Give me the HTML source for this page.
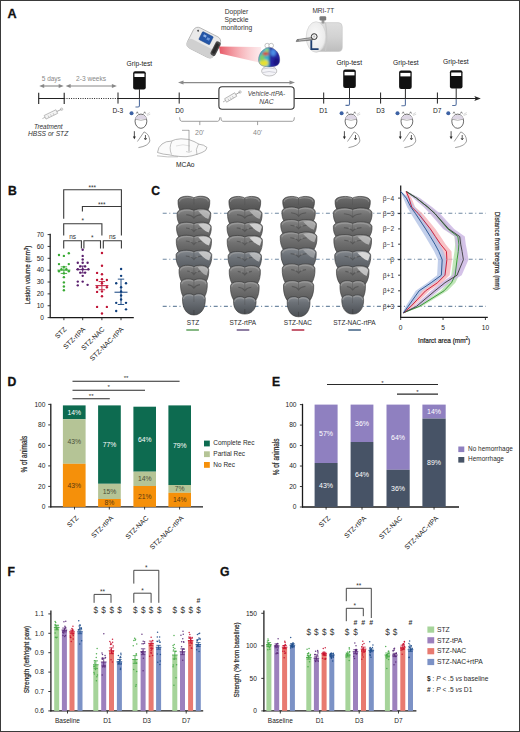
<!DOCTYPE html><html><head><meta charset="utf-8"><style>html,body{margin:0;padding:0;background:#fff;}body{width:520px;height:732px;overflow:hidden;}svg{display:block;font-family:"Liberation Sans", sans-serif;}</style></head><body>
<svg width="520" height="732" viewBox="0 0 520 732">
<defs><linearGradient id="beam" x1="0" y1="0" x2="1" y2="0"><stop offset="0" stop-color="#e23a4a" stop-opacity="0.85"/><stop offset="0.5" stop-color="#f07882" stop-opacity="0.55"/><stop offset="1" stop-color="#f8c0c6" stop-opacity="0.3"/></linearGradient><radialGradient id="heat" cx="0.45" cy="0.4" r="0.6"><stop offset="0" stop-color="#f0e020"/><stop offset="0.3" stop-color="#60d060"/><stop offset="0.6" stop-color="#20a0e0"/><stop offset="1" stop-color="#1030a0"/></radialGradient><linearGradient id="slice" x1="0" y1="0" x2="1" y2="0"><stop offset="0" stop-color="#5a5a5a"/><stop offset="0.5" stop-color="#6e6e6e"/><stop offset="1" stop-color="#888"/></linearGradient><linearGradient id="mri" x1="0" y1="0" x2="1" y2="0"><stop offset="0" stop-color="#e6e6e6"/><stop offset="1" stop-color="#c8c8c8"/></linearGradient></defs>
<rect x="0" y="0" width="520" height="732" fill="#fff"/>
<text x="7.60" y="17.90" font-size="12.6" text-anchor="start" fill="#111" font-weight="bold" font-style="normal" stroke="#111" stroke-width="0.3">A</text>
<text x="236.50" y="13.70" font-size="6.7" text-anchor="middle" fill="#333" font-weight="normal" font-style="normal" >Doppler</text>
<text x="236.50" y="21.90" font-size="6.7" text-anchor="middle" fill="#333" font-weight="normal" font-style="normal" >Speckle</text>
<text x="236.50" y="30.10" font-size="6.7" text-anchor="middle" fill="#333" font-weight="normal" font-style="normal" >monitoring</text>
<text x="323.30" y="13.30" font-size="6.5" text-anchor="middle" fill="#333" font-weight="normal" font-style="normal" >MRI-7T</text>
<g transform="translate(203.8,42.6) rotate(27)">
<rect x="-15" y="-11.5" width="30" height="23" rx="5" ry="5" fill="#eaeaea" stroke="#a5a5a5" stroke-width="0.7"/>
<rect x="-15" y="2" width="30" height="9.5" rx="4" ry="4" fill="#d0d0d0" stroke="none"/>
<rect x="-6" y="-9.5" width="12" height="9" rx="0.8" fill="#2456a8" stroke="#173c7a" stroke-width="0.4"/>
<rect x="-3.5" y="-7.5" width="3" height="2.2" fill="#8fb2e6"/><rect x="0.8" y="-6.5" width="3" height="2.5" fill="#6d97d8"/>
<rect x="10.5" y="-7.5" width="5.5" height="15" rx="2" fill="#4a4a4a"/>
<rect x="11.5" y="-5.5" width="3.2" height="11" rx="1.5" fill="#2a2a2a"/>
<circle cx="-10.5" cy="-8" r="1" fill="#555"/>
</g>
<path d="M219,46.5 L261,47 L262,63 L220,53.5 Z" fill="url(#beam)" stroke="none" stroke-width="0" />
<circle cx="267.20" cy="45.60" r="2.30" fill="#fff" stroke="#8a8a8a" stroke-width="0.5"/>
<circle cx="271.20" cy="45.60" r="2.30" fill="#fff" stroke="#8a8a8a" stroke-width="0.5"/>
<ellipse cx="269.2" cy="71" rx="7.6" ry="5" fill="#f4f4f8" stroke="#8a8a8a" stroke-width="0.5"/>
<path d="M262.5,69 Q269,67 276,69 M263,72.5 Q269,70.5 275.5,72.5" fill="none" stroke="#9a9aaa" stroke-width="0.4" />
<defs><clipPath id="ctx"><path d="M269.2,47.4 C263.5,47.4 258.3,53 258.4,60 C258.5,64.5 261.5,66.9 269.2,66.9 C276.9,66.9 279.8,64.5 279.9,60 C280,53 274.9,47.4 269.2,47.4 Z"/></clipPath><filter id="hb" x="-30%" y="-30%" width="160%" height="160%"><feGaussianBlur stdDeviation="0.9"/></filter></defs>
<g clip-path="url(#ctx)"><g filter="url(#hb)">
<rect x="256.00" y="45.00" width="14.00" height="24.00" fill="#38b4cc" />
<rect x="269.20" y="45.00" width="12.00" height="24.00" fill="#2626a0" />
<ellipse cx="263.8" cy="63" rx="4.8" ry="3.4" fill="#e8e030"/>
<ellipse cx="262" cy="58" rx="2.6" ry="3" fill="#80d060"/>
<ellipse cx="265.6" cy="53.8" rx="3.2" ry="1.7" fill="#e03818"/>
<ellipse cx="267" cy="50.3" rx="2" ry="1.6" fill="#a8dc60"/>
<ellipse cx="273.2" cy="52.5" rx="2.8" ry="3.6" fill="#4c8ee6"/>
<ellipse cx="276.5" cy="62" rx="3" ry="3.8" fill="#1a1480"/>
</g></g>
<path d="M269.2,47.6 C264,47.6 258.5,53 258.6,60 C258.7,64.5 261.5,66.8 269.2,66.8 C276.9,66.8 279.6,64.5 279.7,60 C279.8,53 274.4,47.6 269.2,47.6 Z" fill="none" stroke="#6a6a8a" stroke-width="0.4" />
<defs><linearGradient id="mrib" x1="0" y1="0" x2="0" y2="1"><stop offset="0" stop-color="#dedede"/><stop offset="0.5" stop-color="#d2d2d2"/><stop offset="1" stop-color="#bdbdbd"/></linearGradient><radialGradient id="mrif" cx="0.45" cy="0.45" r="0.6"><stop offset="0" stop-color="#fafafa"/><stop offset="0.8" stop-color="#ececec"/><stop offset="1" stop-color="#d0d0d0"/></radialGradient></defs>
<path d="M316,22.6 L338.5,22.6 Q342.3,22.8 342.3,27 L342.3,47.2 Q342.3,51.4 338.5,51.4 L316,51.6 Z" fill="url(#mrib)" stroke="#c2c2c2" stroke-width="0.5" />
<path d="M325.5,22.6 Q328,37 325.5,51.4" fill="none" stroke="#c8c8c8" stroke-width="1.2" />
<rect x="321.60" y="19.50" width="2.80" height="4.00" fill="#9a9a9a" />
<rect x="319.5" y="16.2" width="6.7" height="4.2" rx="1.2" fill="#7a7a7a"/>
<ellipse cx="316.1" cy="37" rx="9.9" ry="15.3" fill="url(#mrif)" stroke="#cfcfcf" stroke-width="0.6"/>
<path d="M297.0,39.6 L312.5,37.4 L312.5,40.0 L296.2,41.6 Z" fill="#8a8a8a" stroke="#444" stroke-width="0.5" />
<line x1="299.00" y1="40.20" x2="311.50" y2="38.60" stroke="#e8e8e8" stroke-width="0.6" />
<circle cx="314.20" cy="36.60" r="2.90" fill="#f2f2f2" stroke="#333" stroke-width="1.0"/>
<circle cx="314.20" cy="36.60" r="1.00" fill="#bbb" />
<path d="M311.3,40.2 L311.3,49.1 L318.6,49.1" fill="none" stroke="#1f3f70" stroke-width="1.8" />
<line x1="181.00" y1="82.60" x2="292.00" y2="82.60" stroke="#8a8a8a" stroke-width="1.1" />
<path d="M178,82.6 L183.5,80.6 L183.5,84.6 Z" fill="#8a8a8a" stroke="none" stroke-width="0" />
<path d="M295,82.6 L289.5,80.6 L289.5,84.6 Z" fill="#8a8a8a" stroke="none" stroke-width="0" />
<line x1="38.70" y1="98.50" x2="64.20" y2="98.50" stroke="#222" stroke-width="1.0" />
<line x1="64.20" y1="98.50" x2="118.00" y2="98.50" stroke="#222" stroke-width="1.0" stroke-dasharray="1,1.3"/>
<line x1="118.00" y1="98.50" x2="218.70" y2="98.50" stroke="#222" stroke-width="1.0" />
<line x1="294.30" y1="98.50" x2="476.00" y2="98.50" stroke="#222" stroke-width="1.0" />
<path d="M480.8,98.5 L474.3,95.9 L475.8,98.5 L474.3,101.1 Z" fill="#222" stroke="none" stroke-width="0" />
<line x1="38.70" y1="92.70" x2="38.70" y2="103.90" stroke="#222" stroke-width="1.1" />
<line x1="64.20" y1="92.70" x2="64.20" y2="103.90" stroke="#222" stroke-width="1.1" />
<line x1="118.00" y1="92.50" x2="118.00" y2="103.60" stroke="#222" stroke-width="1.0" />
<line x1="179.20" y1="92.50" x2="179.20" y2="103.60" stroke="#222" stroke-width="1.0" />
<line x1="323.70" y1="92.50" x2="323.70" y2="103.60" stroke="#222" stroke-width="1.0" />
<line x1="380.60" y1="92.50" x2="380.60" y2="103.60" stroke="#222" stroke-width="1.0" />
<line x1="437.40" y1="92.50" x2="437.40" y2="103.60" stroke="#222" stroke-width="1.0" />
<text x="117.80" y="113.10" font-size="6.6" text-anchor="middle" fill="#222" font-weight="normal" font-style="normal" >D-3</text>
<text x="179.40" y="113.10" font-size="6.6" text-anchor="middle" fill="#222" font-weight="normal" font-style="normal" >D0</text>
<text x="323.50" y="113.10" font-size="6.6" text-anchor="middle" fill="#222" font-weight="normal" font-style="normal" >D1</text>
<text x="380.40" y="113.10" font-size="6.6" text-anchor="middle" fill="#222" font-weight="normal" font-style="normal" >D3</text>
<text x="437.30" y="113.10" font-size="6.6" text-anchor="middle" fill="#222" font-weight="normal" font-style="normal" >D7</text>
<text x="51.30" y="81.20" font-size="6.5" text-anchor="middle" fill="#888" font-weight="normal" font-style="normal" >5 days</text>
<text x="91.10" y="81.20" font-size="6.6" text-anchor="middle" fill="#888" font-weight="normal" font-style="normal" >2-3 weeks</text>
<line x1="43.20" y1="86.00" x2="59.70" y2="86.00" stroke="#888" stroke-width="1.1" />
<path d="M39.2,86 L44.2,83.9 L44.2,88.1 Z" fill="#888" stroke="none" stroke-width="0" />
<path d="M63.7,86 L58.7,83.9 L58.7,88.1 Z" fill="#888" stroke="none" stroke-width="0" />
<line x1="69.60" y1="86.00" x2="112.90" y2="86.00" stroke="#888" stroke-width="1.1" />
<path d="M65.6,86 L70.6,83.9 L70.6,88.1 Z" fill="#888" stroke="none" stroke-width="0" />
<path d="M116.9,86 L111.9,83.9 L111.9,88.1 Z" fill="#888" stroke="none" stroke-width="0" />
<path d="M45.97,119.08 L57.68,113.35 L55.92,109.75 L44.21,115.48 Z" fill="#f4f4f4" stroke="#a0a0a0" stroke-width="0.7" />
<line x1="42.40" y1="118.60" x2="45.09" y2="117.28" stroke="#a0a0a0" stroke-width="0.7" />
<line x1="56.80" y1="111.55" x2="61.60" y2="109.20" stroke="#a0a0a0" stroke-width="0.9" />
<line x1="49.04" y1="117.58" x2="47.98" y2="115.42" stroke="#a0a0a0" stroke-width="0.5" />
<line x1="51.54" y1="116.35" x2="50.48" y2="114.20" stroke="#a0a0a0" stroke-width="0.5" />
<line x1="54.03" y1="115.13" x2="52.98" y2="112.98" stroke="#a0a0a0" stroke-width="0.5" />
<circle cx="61.60" cy="109.20" r="1.20" fill="none" stroke="#a0a0a0" stroke-width="0.6"/>
<text x="48.30" y="128.70" font-size="6.4" text-anchor="middle" fill="#333" font-weight="normal" font-style="italic" >Treatment</text>
<text x="48.10" y="135.60" font-size="6.65" text-anchor="middle" fill="#333" font-weight="normal" font-style="italic" >HBSS or STZ</text>
<rect x="218.9" y="86.8" width="75.2" height="22.4" rx="3.2" ry="3.2" fill="#fff" stroke="#333" stroke-width="1.1"/>
<path d="M226.60,102.20 L236.76,96.22 L234.74,92.78 L224.57,98.76 Z" fill="#f4f4f4" stroke="#999" stroke-width="0.7" />
<line x1="223.00" y1="102.00" x2="225.59" y2="100.48" stroke="#999" stroke-width="0.7" />
<line x1="235.75" y1="94.50" x2="240.00" y2="92.00" stroke="#999" stroke-width="0.9" />
<line x1="229.11" y1="100.72" x2="227.90" y2="98.66" stroke="#999" stroke-width="0.5" />
<line x1="231.32" y1="99.42" x2="230.11" y2="97.36" stroke="#999" stroke-width="0.5" />
<line x1="233.53" y1="98.12" x2="232.32" y2="96.06" stroke="#999" stroke-width="0.5" />
<circle cx="240.00" cy="92.00" r="1.20" fill="none" stroke="#999" stroke-width="0.6"/>
<text x="266.50" y="96.00" font-size="6.5" text-anchor="middle" fill="#444" font-weight="normal" font-style="italic" >Vehicle-rtPA-</text>
<text x="266.50" y="104.10" font-size="6.8" text-anchor="middle" fill="#444" font-weight="normal" font-style="italic" >NAC</text>
<path d="M179.6,117.3 Q179.6,121.3 181.6,121.3 L217.8,121.3 Q219.8,121.3 219.8,117.3" fill="none" stroke="#888" stroke-width="0.8" />
<line x1="199.80" y1="121.30" x2="199.80" y2="125.10" stroke="#888" stroke-width="0.8" />
<path d="M220.8,117.3 Q220.8,121.3 222.8,121.3 L292.4,121.3 Q294.4,121.3 294.4,117.3" fill="none" stroke="#888" stroke-width="0.8" />
<line x1="257.60" y1="121.30" x2="257.60" y2="125.10" stroke="#888" stroke-width="0.8" />
<text x="199.60" y="135.00" font-size="7" text-anchor="middle" fill="#888" font-weight="normal" font-style="normal" >20'</text>
<text x="257.60" y="134.50" font-size="7" text-anchor="middle" fill="#888" font-weight="normal" font-style="normal" >40'</text>
<path d="M157.5,152.5 Q158,147 162,144 Q166,141 171,141.2 Q175,139 181,138.8 Q189,138.6 194,141.5 Q197,143 199,144.2 Q204,144.5 207,147.5 Q206.5,151 202,152.5 Q197,154.5 192,155.8 Q186,157.2 180,156.5 Q174,156 169,154.8 Q163,154.5 157.5,152.5 Z" fill="#fbfbfb" stroke="#9a9a9a" stroke-width="0.7" />
<path d="M172,141.2 Q168.5,147.5 171.5,154.5" fill="none" stroke="#9a9a9a" stroke-width="0.6" />
<path d="M198.5,144 Q195,149.5 197,155" fill="none" stroke="#9a9a9a" stroke-width="0.6" />
<path d="M176,146 Q183,143.5 190,146" fill="none" stroke="#c4c4c4" stroke-width="0.5" />
<path d="M157,155.8 Q168,157.5 178,156.8" fill="none" stroke="#9a9a9a" stroke-width="0.6" />
<path d="M186,151.5 Q189,153.5 192,151" fill="none" stroke="#aaa" stroke-width="0.5" />
<line x1="189.00" y1="130.00" x2="189.00" y2="151.50" stroke="#888" stroke-width="0.7" />
<line x1="182.00" y1="130.30" x2="189.00" y2="130.30" stroke="#888" stroke-width="0.7" />
<text x="185.30" y="166.80" font-size="6.7" text-anchor="middle" fill="#222" font-weight="normal" font-style="normal" >MCAo</text>
<text x="139.40" y="66.30" font-size="6.7" text-anchor="middle" fill="#222" font-weight="normal" font-style="normal" >Grip-test</text>
<rect x="133.15" y="71.20" width="12.6" height="18.4" rx="2" ry="2" fill="#111"/>
<rect x="134.45" y="73.50" width="10.00" height="3.50" fill="#fff" />
<line x1="139.45" y1="89.20" x2="139.45" y2="99.50" stroke="#2a2a2a" stroke-width="1.0" />
<path d="M139.45,99.5 L139.45,105.6 Q139.45,107.0 138.04999999999998,107.0 L135.45,107.0" fill="none" stroke="#5470a0" stroke-width="1.1" />
<circle cx="131.55" cy="113.20" r="2.00" fill="#3d62a4" />
<ellipse cx="140.95" cy="121.2" rx="5.9" ry="7.1" fill="#fff" stroke="#444" stroke-width="0.8"/>
<path d="M135.35,119.2 C135.15,113.5 146.75,113.5 146.55,119.2 Z" fill="#ddd6e4" stroke="none" stroke-width="0" />
<path d="M135.35,119.2 Q140.95,121.4 146.55,119.2" fill="none" stroke="#666" stroke-width="0.5" />
<path d="M136.25,113.6 L137.25,111.8 L138.25,113.6 M143.65,113.6 L144.65,111.8 L145.65,113.6" fill="none" stroke="#444" stroke-width="0.6" />
<path d="M146.65,114.5 L149.95,112.5 M146.95,115.5 L150.25,114.2" fill="none" stroke="#999" stroke-width="0.4" />
<line x1="134.35" y1="131.20" x2="134.35" y2="137.20" stroke="#222" stroke-width="0.8" />
<path d="M132.85,136.4 L134.35,139.3 L135.85,136.4 Z" fill="#222" stroke="none" stroke-width="0" />
<path d="M137.45,141.5 L144.05,131.9 Q149.45,134 149.85,141 Q148.45,146 138.45,147.6" fill="none" stroke="#777" stroke-width="0.7" />
<path d="M145.45,135 L145.45,139 M144.25,138 L145.45,140 L146.65,138" fill="none" stroke="#333" stroke-width="0.8" />
<text x="349.20" y="64.60" font-size="6.7" text-anchor="middle" fill="#222" font-weight="normal" font-style="normal" >Grip-test</text>
<rect x="343.20" y="69.60" width="12.6" height="18.4" rx="2" ry="2" fill="#111"/>
<rect x="344.50" y="71.90" width="10.00" height="3.50" fill="#fff" />
<line x1="349.50" y1="87.60" x2="349.50" y2="99.50" stroke="#2a2a2a" stroke-width="1.0" />
<path d="M349.5,99.5 L349.5,104.0 Q349.5,105.4 348.1,105.4 L345.5,105.4" fill="none" stroke="#5470a0" stroke-width="1.1" />
<circle cx="341.60" cy="113.20" r="2.00" fill="#3d62a4" />
<ellipse cx="351.00" cy="121.2" rx="5.9" ry="7.1" fill="#fff" stroke="#444" stroke-width="0.8"/>
<path d="M345.40,119.2 C345.20,113.5 356.80,113.5 356.60,119.2 Z" fill="#ddd6e4" stroke="none" stroke-width="0" />
<path d="M345.40,119.2 Q351.00,121.4 356.60,119.2" fill="none" stroke="#666" stroke-width="0.5" />
<path d="M346.30,113.6 L347.30,111.8 L348.30,113.6 M353.70,113.6 L354.70,111.8 L355.70,113.6" fill="none" stroke="#444" stroke-width="0.6" />
<path d="M356.70,114.5 L360.00,112.5 M357.00,115.5 L360.30,114.2" fill="none" stroke="#999" stroke-width="0.4" />
<line x1="344.40" y1="131.20" x2="344.40" y2="137.20" stroke="#222" stroke-width="0.8" />
<path d="M342.9,136.4 L344.4,139.3 L345.9,136.4 Z" fill="#222" stroke="none" stroke-width="0" />
<path d="M347.50,141.5 L354.10,131.9 Q359.50,134 359.90,141 Q358.50,146 348.50,147.6" fill="none" stroke="#777" stroke-width="0.7" />
<path d="M355.50,135 L355.50,139 M354.30,138 L355.50,140 L356.70,138" fill="none" stroke="#333" stroke-width="0.8" />
<text x="405.80" y="64.90" font-size="6.7" text-anchor="middle" fill="#222" font-weight="normal" font-style="normal" >Grip-test</text>
<rect x="399.10" y="70.60" width="12.6" height="18.4" rx="2" ry="2" fill="#111"/>
<rect x="400.40" y="72.90" width="10.00" height="3.50" fill="#fff" />
<line x1="405.40" y1="88.60" x2="405.40" y2="99.50" stroke="#2a2a2a" stroke-width="1.0" />
<path d="M405.4,99.5 L405.4,104.39999999999999 Q405.4,105.8 404.0,105.8 L401.4,105.8" fill="none" stroke="#5470a0" stroke-width="1.1" />
<circle cx="397.50" cy="113.20" r="2.00" fill="#3d62a4" />
<ellipse cx="406.90" cy="121.2" rx="5.9" ry="7.1" fill="#fff" stroke="#444" stroke-width="0.8"/>
<path d="M401.30,119.2 C401.10,113.5 412.70,113.5 412.50,119.2 Z" fill="#ddd6e4" stroke="none" stroke-width="0" />
<path d="M401.30,119.2 Q406.90,121.4 412.50,119.2" fill="none" stroke="#666" stroke-width="0.5" />
<path d="M402.20,113.6 L403.20,111.8 L404.20,113.6 M409.60,113.6 L410.60,111.8 L411.60,113.6" fill="none" stroke="#444" stroke-width="0.6" />
<path d="M412.60,114.5 L415.90,112.5 M412.90,115.5 L416.20,114.2" fill="none" stroke="#999" stroke-width="0.4" />
<line x1="400.30" y1="131.20" x2="400.30" y2="137.20" stroke="#222" stroke-width="0.8" />
<path d="M398.79999999999995,136.4 L400.29999999999995,139.3 L401.79999999999995,136.4 Z" fill="#222" stroke="none" stroke-width="0" />
<path d="M403.40,141.5 L410.00,131.9 Q415.40,134 415.80,141 Q414.40,146 404.40,147.6" fill="none" stroke="#777" stroke-width="0.7" />
<path d="M411.40,135 L411.40,139 M410.20,138 L411.40,140 L412.60,138" fill="none" stroke="#333" stroke-width="0.8" />
<text x="455.80" y="64.20" font-size="6.7" text-anchor="middle" fill="#222" font-weight="normal" font-style="normal" >Grip-test</text>
<rect x="449.90" y="70.20" width="12.6" height="18.4" rx="2" ry="2" fill="#111"/>
<rect x="451.20" y="72.50" width="10.00" height="3.50" fill="#fff" />
<line x1="456.20" y1="88.20" x2="456.20" y2="99.50" stroke="#2a2a2a" stroke-width="1.0" />
<path d="M456.2,99.5 L456.2,104.1 Q456.2,105.5 454.8,105.5 L452.2,105.5" fill="none" stroke="#5470a0" stroke-width="1.1" />
<circle cx="448.30" cy="113.20" r="2.00" fill="#3d62a4" />
<ellipse cx="457.70" cy="121.2" rx="5.9" ry="7.1" fill="#fff" stroke="#444" stroke-width="0.8"/>
<path d="M452.10,119.2 C451.90,113.5 463.50,113.5 463.30,119.2 Z" fill="#ddd6e4" stroke="none" stroke-width="0" />
<path d="M452.10,119.2 Q457.70,121.4 463.30,119.2" fill="none" stroke="#666" stroke-width="0.5" />
<path d="M453.00,113.6 L454.00,111.8 L455.00,113.6 M460.40,113.6 L461.40,111.8 L462.40,113.6" fill="none" stroke="#444" stroke-width="0.6" />
<path d="M463.40,114.5 L466.70,112.5 M463.70,115.5 L467.00,114.2" fill="none" stroke="#999" stroke-width="0.4" />
<line x1="451.10" y1="131.20" x2="451.10" y2="137.20" stroke="#222" stroke-width="0.8" />
<path d="M449.59999999999997,136.4 L451.09999999999997,139.3 L452.59999999999997,136.4 Z" fill="#222" stroke="none" stroke-width="0" />
<path d="M454.20,141.5 L460.80,131.9 Q466.20,134 466.60,141 Q465.20,146 455.20,147.6" fill="none" stroke="#777" stroke-width="0.7" />
<path d="M462.20,135 L462.20,139 M461.00,138 L462.20,140 L463.40,138" fill="none" stroke="#333" stroke-width="0.8" />
<text x="7.90" y="194.80" font-size="12.2" text-anchor="start" fill="#111" font-weight="bold" font-style="normal" stroke="#111" stroke-width="0.3">B</text>
<line x1="50.20" y1="233.80" x2="50.20" y2="318.10" stroke="#1a1a1a" stroke-width="1.25" />
<line x1="49.70" y1="317.60" x2="133.80" y2="317.60" stroke="#1a1a1a" stroke-width="1.25" />
<line x1="47.60" y1="317.60" x2="50.20" y2="317.60" stroke="#222" stroke-width="0.9" />
<text x="44.00" y="319.90" font-size="6.6" text-anchor="end" fill="#222" font-weight="normal" font-style="normal" >0</text>
<line x1="47.60" y1="305.74" x2="50.20" y2="305.74" stroke="#222" stroke-width="0.9" />
<text x="44.00" y="308.04" font-size="6.6" text-anchor="end" fill="#222" font-weight="normal" font-style="normal" >10</text>
<line x1="47.60" y1="293.88" x2="50.20" y2="293.88" stroke="#222" stroke-width="0.9" />
<text x="44.00" y="296.18" font-size="6.6" text-anchor="end" fill="#222" font-weight="normal" font-style="normal" >20</text>
<line x1="47.60" y1="282.02" x2="50.20" y2="282.02" stroke="#222" stroke-width="0.9" />
<text x="44.00" y="284.32" font-size="6.6" text-anchor="end" fill="#222" font-weight="normal" font-style="normal" >30</text>
<line x1="47.60" y1="270.16" x2="50.20" y2="270.16" stroke="#222" stroke-width="0.9" />
<text x="44.00" y="272.46" font-size="6.6" text-anchor="end" fill="#222" font-weight="normal" font-style="normal" >40</text>
<line x1="47.60" y1="258.30" x2="50.20" y2="258.30" stroke="#222" stroke-width="0.9" />
<text x="44.00" y="260.60" font-size="6.6" text-anchor="end" fill="#222" font-weight="normal" font-style="normal" >50</text>
<line x1="47.60" y1="246.44" x2="50.20" y2="246.44" stroke="#222" stroke-width="0.9" />
<text x="44.00" y="248.74" font-size="6.6" text-anchor="end" fill="#222" font-weight="normal" font-style="normal" >60</text>
<line x1="47.60" y1="234.58" x2="50.20" y2="234.58" stroke="#222" stroke-width="0.9" />
<text x="44.00" y="236.88" font-size="6.6" text-anchor="end" fill="#222" font-weight="normal" font-style="normal" >70</text>
<line x1="63.90" y1="317.60" x2="63.90" y2="320.20" stroke="#222" stroke-width="0.9" />
<line x1="82.70" y1="317.60" x2="82.70" y2="320.20" stroke="#222" stroke-width="0.9" />
<line x1="101.90" y1="317.60" x2="101.90" y2="320.20" stroke="#222" stroke-width="0.9" />
<line x1="121.00" y1="317.60" x2="121.00" y2="320.20" stroke="#222" stroke-width="0.9" />
<text transform="translate(30.3,275.0) rotate(-90) scale(0.89,1)" font-size="7" stroke="#222" stroke-width="0.2" text-anchor="middle" fill="#222">Lesion volume (mm<tspan font-size="5" dy="-2.5">3</tspan><tspan dy="2.5">)</tspan></text>
<text transform="translate(66.90,329.80) rotate(-45)" font-size="6.8" text-anchor="end" fill="#222">STZ</text>
<text transform="translate(85.70,329.80) rotate(-45)" font-size="6.8" text-anchor="end" fill="#222">STZ-rtPA</text>
<text transform="translate(104.90,329.80) rotate(-45)" font-size="6.8" text-anchor="end" fill="#222">STZ-NAC</text>
<text transform="translate(124.00,329.80) rotate(-45)" font-size="6.8" text-anchor="end" fill="#222">STZ-NAC-rtPA</text>
<circle cx="58.99" cy="254.94" r="1.20" fill="#3aaa35" />
<circle cx="63.89" cy="255.92" r="1.20" fill="#3aaa35" />
<circle cx="68.80" cy="253.31" r="1.20" fill="#3aaa35" />
<circle cx="58.99" cy="264.09" r="1.20" fill="#3aaa35" />
<circle cx="68.80" cy="264.09" r="1.20" fill="#3aaa35" />
<circle cx="63.89" cy="266.87" r="1.20" fill="#3aaa35" />
<circle cx="58.99" cy="271.29" r="1.20" fill="#3aaa35" />
<circle cx="66.35" cy="269.32" r="1.20" fill="#3aaa35" />
<circle cx="61.44" cy="269.32" r="1.20" fill="#3aaa35" />
<circle cx="63.89" cy="273.41" r="1.20" fill="#3aaa35" />
<circle cx="63.89" cy="277.17" r="1.20" fill="#3aaa35" />
<circle cx="63.89" cy="282.40" r="1.20" fill="#3aaa35" />
<circle cx="63.89" cy="286.49" r="1.20" fill="#3aaa35" />
<circle cx="63.89" cy="290.25" r="1.20" fill="#3aaa35" />
<circle cx="68.80" cy="271.29" r="1.20" fill="#3aaa35" />
<circle cx="82.69" cy="249.71" r="1.20" fill="#5a1f6e" />
<circle cx="82.69" cy="255.92" r="1.20" fill="#5a1f6e" />
<circle cx="82.69" cy="259.52" r="1.20" fill="#5a1f6e" />
<circle cx="77.79" cy="262.79" r="1.20" fill="#5a1f6e" />
<circle cx="82.69" cy="262.79" r="1.20" fill="#5a1f6e" />
<circle cx="87.59" cy="262.79" r="1.20" fill="#5a1f6e" />
<circle cx="80.24" cy="266.38" r="1.20" fill="#5a1f6e" />
<circle cx="85.14" cy="266.38" r="1.20" fill="#5a1f6e" />
<circle cx="77.79" cy="269.32" r="1.20" fill="#5a1f6e" />
<circle cx="82.69" cy="269.32" r="1.20" fill="#5a1f6e" />
<circle cx="88.41" cy="269.32" r="1.20" fill="#5a1f6e" />
<circle cx="80.24" cy="272.59" r="1.20" fill="#5a1f6e" />
<circle cx="85.14" cy="272.59" r="1.20" fill="#5a1f6e" />
<circle cx="82.69" cy="275.86" r="1.20" fill="#5a1f6e" />
<circle cx="77.79" cy="281.58" r="1.20" fill="#5a1f6e" />
<circle cx="82.69" cy="281.58" r="1.20" fill="#5a1f6e" />
<circle cx="77.79" cy="285.34" r="1.20" fill="#5a1f6e" />
<circle cx="87.59" cy="284.85" r="1.20" fill="#5a1f6e" />
<circle cx="101.98" cy="252.98" r="1.20" fill="#c01436" />
<circle cx="101.98" cy="265.73" r="1.20" fill="#c01436" />
<circle cx="97.07" cy="272.92" r="1.20" fill="#c01436" />
<circle cx="101.98" cy="274.23" r="1.20" fill="#c01436" />
<circle cx="97.07" cy="279.95" r="1.20" fill="#c01436" />
<circle cx="101.98" cy="279.13" r="1.20" fill="#c01436" />
<circle cx="106.88" cy="279.95" r="1.20" fill="#c01436" />
<circle cx="101.98" cy="283.22" r="1.20" fill="#c01436" />
<circle cx="97.07" cy="287.30" r="1.20" fill="#c01436" />
<circle cx="106.88" cy="287.30" r="1.20" fill="#c01436" />
<circle cx="101.98" cy="291.39" r="1.20" fill="#c01436" />
<circle cx="97.07" cy="291.88" r="1.20" fill="#c01436" />
<circle cx="101.98" cy="296.29" r="1.20" fill="#c01436" />
<circle cx="97.07" cy="306.92" r="1.20" fill="#c01436" />
<circle cx="106.88" cy="306.92" r="1.20" fill="#c01436" />
<circle cx="101.98" cy="313.46" r="1.20" fill="#c01436" />
<circle cx="121.10" cy="269.00" r="1.20" fill="#0f3f7d" />
<circle cx="121.10" cy="275.86" r="1.20" fill="#0f3f7d" />
<circle cx="116.20" cy="283.22" r="1.20" fill="#0f3f7d" />
<circle cx="126.01" cy="283.22" r="1.20" fill="#0f3f7d" />
<circle cx="121.10" cy="287.30" r="1.20" fill="#0f3f7d" />
<circle cx="121.10" cy="291.39" r="1.20" fill="#0f3f7d" />
<circle cx="121.10" cy="295.48" r="1.20" fill="#0f3f7d" />
<circle cx="121.10" cy="299.56" r="1.20" fill="#0f3f7d" />
<circle cx="116.20" cy="302.83" r="1.20" fill="#0f3f7d" />
<circle cx="126.01" cy="302.83" r="1.20" fill="#0f3f7d" />
<circle cx="116.20" cy="311.01" r="1.20" fill="#0f3f7d" />
<circle cx="126.01" cy="309.37" r="1.20" fill="#0f3f7d" />
<line x1="57.40" y1="270.14" x2="70.40" y2="270.14" stroke="#3aaa35" stroke-width="1.0" />
<line x1="63.90" y1="266.87" x2="63.90" y2="273.41" stroke="#3aaa35" stroke-width="0.9" />
<line x1="60.70" y1="266.87" x2="67.10" y2="266.87" stroke="#3aaa35" stroke-width="0.9" />
<line x1="60.70" y1="273.41" x2="67.10" y2="273.41" stroke="#3aaa35" stroke-width="0.9" />
<line x1="76.20" y1="269.65" x2="89.20" y2="269.65" stroke="#5a1f6e" stroke-width="1.0" />
<line x1="82.70" y1="266.06" x2="82.70" y2="272.92" stroke="#5a1f6e" stroke-width="0.9" />
<line x1="79.50" y1="266.06" x2="85.90" y2="266.06" stroke="#5a1f6e" stroke-width="0.9" />
<line x1="79.50" y1="272.92" x2="85.90" y2="272.92" stroke="#5a1f6e" stroke-width="0.9" />
<line x1="95.40" y1="285.67" x2="108.40" y2="285.67" stroke="#c01436" stroke-width="1.0" />
<line x1="101.90" y1="281.58" x2="101.90" y2="289.76" stroke="#c01436" stroke-width="0.9" />
<line x1="98.70" y1="281.58" x2="105.10" y2="281.58" stroke="#c01436" stroke-width="0.9" />
<line x1="98.70" y1="289.76" x2="105.10" y2="289.76" stroke="#c01436" stroke-width="0.9" />
<line x1="114.50" y1="292.21" x2="127.50" y2="292.21" stroke="#0f3f7d" stroke-width="1.0" />
<line x1="121.00" y1="279.13" x2="121.00" y2="304.47" stroke="#0f3f7d" stroke-width="0.9" />
<line x1="117.80" y1="279.13" x2="124.20" y2="279.13" stroke="#0f3f7d" stroke-width="0.9" />
<line x1="117.80" y1="304.47" x2="124.20" y2="304.47" stroke="#0f3f7d" stroke-width="0.9" />
<path d="M63.7,218.8 L63.7,189.7 L121.4,189.7 L121.4,235.4" fill="none" stroke="#3a3a3a" stroke-width="1.1" />
<path d="M82.4,211.5 L82.4,206.5 L121.4,206.5" fill="none" stroke="#3a3a3a" stroke-width="1.1" />
<path d="M63.7,235.4 L63.7,223.8 L101.9,223.8 L101.9,235.4" fill="none" stroke="#3a3a3a" stroke-width="1.1" />
<path d="M63.7,248.5 L63.7,240.8 L81.4,240.8 L81.4,248.5" fill="none" stroke="#3a3a3a" stroke-width="1.1" />
<path d="M83.9,248.5 L83.9,240.8 L100.5,240.8 L100.5,248.5" fill="none" stroke="#3a3a3a" stroke-width="1.1" />
<path d="M103.3,248.5 L103.3,240.8 L121.4,240.8 L121.4,248.5" fill="none" stroke="#3a3a3a" stroke-width="1.1" />
<text x="92.30" y="189.80" font-size="6.5" text-anchor="middle" fill="#333" font-weight="normal" font-style="normal" >***</text>
<text x="101.80" y="206.50" font-size="6.5" text-anchor="middle" fill="#333" font-weight="normal" font-style="normal" >***</text>
<text x="82.80" y="223.20" font-size="6.5" text-anchor="middle" fill="#333" font-weight="normal" font-style="normal" >*</text>
<text x="72.60" y="238.80" font-size="6.5" text-anchor="middle" fill="#333" font-weight="normal" font-style="normal" >ns</text>
<text x="92.20" y="240.20" font-size="6.5" text-anchor="middle" fill="#333" font-weight="normal" font-style="normal" >*</text>
<text x="112.40" y="238.80" font-size="6.5" text-anchor="middle" fill="#333" font-weight="normal" font-style="normal" >ns</text>
<text x="151.20" y="195.20" font-size="12.2" text-anchor="start" fill="#111" font-weight="bold" font-style="normal" stroke="#111" stroke-width="0.3">C</text>
<line x1="162.70" y1="213.20" x2="486.00" y2="213.20" stroke="#7089a2" stroke-width="1.1" stroke-dasharray="4,2.6,1,2.6"/>
<line x1="162.70" y1="259.30" x2="486.00" y2="259.30" stroke="#7089a2" stroke-width="1.1" stroke-dasharray="4,2.6,1,2.6"/>
<line x1="162.70" y1="306.40" x2="486.00" y2="306.40" stroke="#7089a2" stroke-width="1.1" stroke-dasharray="4,2.6,1,2.6"/>
<defs><linearGradient id="slg" x1="0" y1="0" x2="0" y2="1"><stop offset="0" stop-color="#8a8a8a"/><stop offset="0.3" stop-color="#717171"/><stop offset="1" stop-color="#4e4e4e"/></linearGradient><linearGradient id="sld" x1="0" y1="0" x2="0" y2="1"><stop offset="0" stop-color="#707070"/><stop offset="0.4" stop-color="#5c5c5c"/><stop offset="1" stop-color="#484848"/></linearGradient><linearGradient id="slb" x1="0" y1="0" x2="0" y2="1"><stop offset="0" stop-color="#858a90"/><stop offset="0.3" stop-color="#6c7177"/><stop offset="1" stop-color="#4c5055"/></linearGradient><filter id="blur1" x="-50%" y="-50%" width="200%" height="200%"><feGaussianBlur stdDeviation="1.1"/></filter><filter id="blur05" x="-20%" y="-20%" width="140%" height="140%"><feGaussianBlur stdDeviation="0.45"/></filter><filter id="blur07" x="-40%" y="-40%" width="180%" height="180%"><feGaussianBlur stdDeviation="0.75"/></filter></defs>
<path d="M193.90,197.80 C189.90,195.30 179.18,195.50 178.06,200.50 C177.42,209.70 182.38,218.10 193.90,218.10 C205.42,218.10 210.38,209.70 209.74,200.50 C208.62,195.50 197.90,195.30 193.90,197.80 Z" fill="url(#sld)" stroke="#333" stroke-width="0.6" />
<path d="M179.50,201.50 C179.82,197.40 189.10,196.60 193.30,198.60 M194.50,198.60 C198.70,196.60 207.98,197.40 208.30,201.50" fill="none" stroke="#a6a6a6" stroke-width="1.1" opacity="0.6" filter="url(#blur05)"/>
<line x1="193.90" y1="198.40" x2="193.90" y2="204.50" stroke="#4a4a4a" stroke-width="0.5" opacity="0.7"/>
<path d="M193.90,210.40 C189.65,207.90 178.26,208.10 177.07,213.10 C176.39,222.80 181.66,231.50 193.90,231.50 C206.14,231.50 211.41,222.80 210.73,213.10 C209.54,208.10 198.15,207.90 193.90,210.40 Z" fill="url(#slg)" stroke="#333" stroke-width="0.6" />
<path d="M178.60,214.10 C178.94,210.00 188.80,209.20 193.30,211.20 M194.50,211.20 C199.00,209.20 208.86,210.00 209.20,214.10" fill="none" stroke="#a6a6a6" stroke-width="1.1" opacity="0.6" filter="url(#blur05)"/>
<path d="M186.25,214.60 Q191.90,215.10 193.90,218.10 Q195.90,215.10 201.55,214.60" fill="none" stroke="#3a3a3a" stroke-width="1.1" opacity="0.45" filter="url(#blur05)"/>
<path d="M198.15,210.80 C204.10,209.40 209.20,210.60 210.05,213.60 L208.35,219.10 C204.10,217.60 201.55,214.60 198.15,210.80 Z" fill="#dadada" stroke="none" stroke-width="0" opacity="0.61" filter="url(#blur07)"/>
<line x1="193.90" y1="211.00" x2="193.90" y2="217.10" stroke="#4a4a4a" stroke-width="0.5" opacity="0.7"/>
<path d="M193.90,223.80 C189.53,221.30 177.80,221.50 176.58,226.50 C175.88,235.95 181.30,244.50 193.90,244.50 C206.50,244.50 211.93,235.95 211.22,226.50 C210.00,221.50 198.28,221.30 193.90,223.80 Z" fill="url(#slg)" stroke="#333" stroke-width="0.6" />
<path d="M178.15,227.50 C178.50,223.40 188.65,222.60 193.30,224.60 M194.50,224.60 C199.15,222.60 209.30,223.40 209.65,227.50" fill="none" stroke="#a6a6a6" stroke-width="1.1" opacity="0.6" filter="url(#blur05)"/>
<path d="M186.03,228.00 Q191.90,228.50 193.90,231.50 Q195.90,228.50 201.78,228.00" fill="none" stroke="#3a3a3a" stroke-width="1.1" opacity="0.45" filter="url(#blur05)"/>
<path d="M198.28,224.20 C204.40,222.80 209.65,224.00 210.53,227.00 L208.78,232.50 C204.40,231.00 201.78,228.00 198.28,224.20 Z" fill="#dadada" stroke="none" stroke-width="0" opacity="0.83" filter="url(#blur07)"/>
<line x1="193.90" y1="224.40" x2="193.90" y2="230.50" stroke="#4a4a4a" stroke-width="0.5" opacity="0.7"/>
<circle cx="190.70" cy="228.50" r="1.10" fill="#8a8a8a" opacity="0.6"/>
<circle cx="197.10" cy="228.50" r="1.10" fill="#8a8a8a" opacity="0.6"/>
<path d="M193.90,236.80 C189.46,234.30 177.57,234.50 176.33,239.50 C175.62,250.19 181.12,259.50 193.90,259.50 C206.68,259.50 212.18,250.19 211.47,239.50 C210.23,234.50 198.34,234.30 193.90,236.80 Z" fill="url(#slg)" stroke="#333" stroke-width="0.6" />
<path d="M177.93,240.50 C178.28,236.40 188.58,235.60 193.30,237.60 M194.50,237.60 C199.22,235.60 209.52,236.40 209.88,240.50" fill="none" stroke="#a6a6a6" stroke-width="1.1" opacity="0.6" filter="url(#blur05)"/>
<path d="M185.91,241.00 Q191.90,241.50 193.90,244.50 Q195.90,241.50 201.89,241.00" fill="none" stroke="#3a3a3a" stroke-width="1.1" opacity="0.45" filter="url(#blur05)"/>
<path d="M198.34,237.20 C204.55,235.80 209.88,237.00 210.76,240.00 L208.99,245.50 C204.55,244.00 201.89,241.00 198.34,237.20 Z" fill="#dadada" stroke="none" stroke-width="0" opacity="0.88" filter="url(#blur07)"/>
<line x1="193.90" y1="237.40" x2="193.90" y2="243.50" stroke="#4a4a4a" stroke-width="0.5" opacity="0.7"/>
<circle cx="190.70" cy="241.50" r="1.10" fill="#8a8a8a" opacity="0.6"/>
<circle cx="197.10" cy="241.50" r="1.10" fill="#8a8a8a" opacity="0.6"/>
<path d="M193.90,251.80 C189.40,249.30 177.34,249.50 176.08,254.50 C175.36,265.19 180.94,274.50 193.90,274.50 C206.86,274.50 212.44,265.19 211.72,254.50 C210.46,249.50 198.40,249.30 193.90,251.80 Z" fill="url(#slb)" stroke="#333" stroke-width="0.6" />
<path d="M177.70,255.50 C178.06,251.40 188.50,250.60 193.30,252.60 M194.50,252.60 C199.30,250.60 209.74,251.40 210.10,255.50" fill="none" stroke="#a6a6a6" stroke-width="1.1" opacity="0.6" filter="url(#blur05)"/>
<path d="M185.80,256.00 Q191.90,256.50 193.90,259.50 Q195.90,256.50 202.00,256.00" fill="none" stroke="#3a3a3a" stroke-width="1.1" opacity="0.45" filter="url(#blur05)"/>
<path d="M198.40,252.20 C204.70,250.80 210.10,252.00 211.00,255.00 L209.20,260.50 C204.70,259.00 202.00,256.00 198.40,252.20 Z" fill="#dadada" stroke="none" stroke-width="0" opacity="0.77" filter="url(#blur07)"/>
<line x1="193.90" y1="252.40" x2="193.90" y2="258.50" stroke="#4a4a4a" stroke-width="0.5" opacity="0.7"/>
<circle cx="190.70" cy="256.50" r="1.10" fill="#8a8a8a" opacity="0.6"/>
<circle cx="197.10" cy="256.50" r="1.10" fill="#8a8a8a" opacity="0.6"/>
<path d="M193.90,266.80 C190.15,264.30 180.10,264.50 179.05,269.50 C178.45,279.32 183.10,288.10 193.90,288.10 C204.70,288.10 209.35,279.32 208.75,269.50 C207.70,264.50 197.65,264.30 193.90,266.80 Z" fill="url(#slg)" stroke="#333" stroke-width="0.6" />
<path d="M180.40,270.50 C180.70,266.40 189.40,265.60 193.30,267.60 M194.50,267.60 C198.40,265.60 207.10,266.40 207.40,270.50" fill="none" stroke="#a6a6a6" stroke-width="1.1" opacity="0.6" filter="url(#blur05)"/>
<path d="M187.15,271.00 Q191.90,271.50 193.90,274.50 Q195.90,271.50 200.65,271.00" fill="none" stroke="#3a3a3a" stroke-width="1.1" opacity="0.45" filter="url(#blur05)"/>
<path d="M197.65,267.20 C202.90,265.80 207.40,267.00 208.15,270.00 L206.65,275.50 C202.90,274.00 200.65,271.00 197.65,267.20 Z" fill="#dadada" stroke="none" stroke-width="0" opacity="0.55" filter="url(#blur07)"/>
<line x1="193.90" y1="267.40" x2="193.90" y2="273.50" stroke="#4a4a4a" stroke-width="0.5" opacity="0.7"/>
<circle cx="190.70" cy="271.50" r="1.10" fill="#8a8a8a" opacity="0.6"/>
<circle cx="197.10" cy="271.50" r="1.10" fill="#8a8a8a" opacity="0.6"/>
<path d="M193.90,280.40 C190.53,277.90 181.48,278.10 180.53,283.10 C180.00,293.73 184.18,303.00 193.90,303.00 C203.62,303.00 207.81,293.73 207.27,283.10 C206.32,278.10 197.28,277.90 193.90,280.40 Z" fill="url(#slg)" stroke="#333" stroke-width="0.6" />
<path d="M181.75,284.10 C182.02,280.00 189.85,279.20 193.30,281.20 M194.50,281.20 C197.95,279.20 205.78,280.00 206.05,284.10" fill="none" stroke="#a6a6a6" stroke-width="1.1" opacity="0.6" filter="url(#blur05)"/>
<path d="M187.83,284.60 Q191.90,285.10 193.90,288.10 Q195.90,285.10 199.97,284.60" fill="none" stroke="#3a3a3a" stroke-width="1.1" opacity="0.45" filter="url(#blur05)"/>
<line x1="193.90" y1="281.00" x2="193.90" y2="287.10" stroke="#4a4a4a" stroke-width="0.5" opacity="0.7"/>
<path d="M193.90,295.30 C191.03,292.80 183.32,293.00 182.52,298.00 C182.06,306.83 185.62,315.00 193.90,315.00 C202.18,315.00 205.75,306.83 205.28,298.00 C204.48,293.00 196.78,292.80 193.90,295.30 Z" fill="url(#slb)" stroke="#333" stroke-width="0.6" />
<line x1="193.90" y1="310.00" x2="193.90" y2="314.70" stroke="#3a3a3a" stroke-width="0.8" opacity="0.7"/>
<path d="M183.55,299.00 C183.78,294.90 190.45,294.10 193.30,296.10 M194.50,296.10 C197.35,294.10 204.02,294.90 204.25,299.00" fill="none" stroke="#a6a6a6" stroke-width="1.1" opacity="0.6" filter="url(#blur05)"/>
<line x1="193.90" y1="295.90" x2="193.90" y2="302.00" stroke="#4a4a4a" stroke-width="0.5" opacity="0.7"/>
<path d="M244.80,198.00 C240.80,195.50 230.08,195.70 228.96,200.70 C228.32,209.78 233.28,218.10 244.80,218.10 C256.32,218.10 261.28,209.78 260.64,200.70 C259.52,195.70 248.80,195.50 244.80,198.00 Z" fill="url(#sld)" stroke="#333" stroke-width="0.6" />
<path d="M230.40,201.70 C230.72,197.60 240.00,196.80 244.20,198.80 M245.40,198.80 C249.60,196.80 258.88,197.60 259.20,201.70" fill="none" stroke="#a6a6a6" stroke-width="1.1" opacity="0.6" filter="url(#blur05)"/>
<line x1="244.80" y1="198.60" x2="244.80" y2="204.70" stroke="#4a4a4a" stroke-width="0.5" opacity="0.7"/>
<path d="M244.80,210.40 C240.45,207.90 228.79,208.10 227.57,213.10 C226.88,222.74 232.27,231.40 244.80,231.40 C257.33,231.40 262.72,222.74 262.03,213.10 C260.81,208.10 249.15,207.90 244.80,210.40 Z" fill="url(#slg)" stroke="#333" stroke-width="0.6" />
<path d="M229.14,214.10 C229.49,210.00 239.58,209.20 244.20,211.20 M245.40,211.20 C250.02,209.20 260.11,210.00 260.46,214.10" fill="none" stroke="#a6a6a6" stroke-width="1.1" opacity="0.6" filter="url(#blur05)"/>
<path d="M236.97,214.60 Q242.80,215.10 244.80,218.10 Q246.80,215.10 252.63,214.60" fill="none" stroke="#3a3a3a" stroke-width="1.1" opacity="0.45" filter="url(#blur05)"/>
<path d="M249.15,210.80 C255.24,209.40 260.46,210.60 261.33,213.60 L259.59,219.10 C255.24,217.60 252.63,214.60 249.15,210.80 Z" fill="#dadada" stroke="none" stroke-width="0" opacity="0.55" filter="url(#blur07)"/>
<line x1="244.80" y1="211.00" x2="244.80" y2="217.10" stroke="#4a4a4a" stroke-width="0.5" opacity="0.7"/>
<path d="M244.80,223.70 C240.33,221.20 228.33,221.40 227.08,226.40 C226.36,236.04 231.91,244.70 244.80,244.70 C257.69,244.70 263.24,236.04 262.52,226.40 C261.27,221.40 249.28,221.20 244.80,223.70 Z" fill="url(#slg)" stroke="#333" stroke-width="0.6" />
<path d="M228.69,227.40 C229.05,223.30 239.43,222.50 244.20,224.50 M245.40,224.50 C250.17,222.50 260.55,223.30 260.91,227.40" fill="none" stroke="#a6a6a6" stroke-width="1.1" opacity="0.6" filter="url(#blur05)"/>
<path d="M236.75,227.90 Q242.80,228.40 244.80,231.40 Q246.80,228.40 252.86,227.90" fill="none" stroke="#3a3a3a" stroke-width="1.1" opacity="0.45" filter="url(#blur05)"/>
<path d="M249.28,224.10 C255.54,222.70 260.91,223.90 261.81,226.90 L260.01,232.40 C255.54,230.90 252.86,227.90 249.28,224.10 Z" fill="#dadada" stroke="none" stroke-width="0" opacity="0.88" filter="url(#blur07)"/>
<line x1="244.80" y1="224.30" x2="244.80" y2="230.40" stroke="#4a4a4a" stroke-width="0.5" opacity="0.7"/>
<circle cx="241.60" cy="228.40" r="1.10" fill="#8a8a8a" opacity="0.6"/>
<circle cx="248.00" cy="228.40" r="1.10" fill="#8a8a8a" opacity="0.6"/>
<path d="M244.80,237.00 C240.36,234.50 228.47,234.70 227.23,239.70 C226.52,251.01 232.02,260.70 244.80,260.70 C257.58,260.70 263.08,251.01 262.37,239.70 C261.13,234.70 249.24,234.50 244.80,237.00 Z" fill="url(#slg)" stroke="#333" stroke-width="0.6" />
<path d="M228.83,240.70 C229.18,236.60 239.48,235.80 244.20,237.80 M245.40,237.80 C250.12,235.80 260.42,236.60 260.78,240.70" fill="none" stroke="#a6a6a6" stroke-width="1.1" opacity="0.6" filter="url(#blur05)"/>
<path d="M236.81,241.20 Q242.80,241.70 244.80,244.70 Q246.80,241.70 252.79,241.20" fill="none" stroke="#3a3a3a" stroke-width="1.1" opacity="0.45" filter="url(#blur05)"/>
<path d="M249.24,237.40 C255.45,236.00 260.78,237.20 261.66,240.20 L259.89,245.70 C255.45,244.20 252.79,241.20 249.24,237.40 Z" fill="#dadada" stroke="none" stroke-width="0" opacity="0.94" filter="url(#blur07)"/>
<line x1="244.80" y1="237.60" x2="244.80" y2="243.70" stroke="#4a4a4a" stroke-width="0.5" opacity="0.7"/>
<circle cx="241.60" cy="241.70" r="1.10" fill="#8a8a8a" opacity="0.6"/>
<circle cx="248.00" cy="241.70" r="1.10" fill="#8a8a8a" opacity="0.6"/>
<path d="M244.80,253.00 C240.59,250.50 229.30,250.70 228.12,255.70 C227.44,265.89 232.67,274.90 244.80,274.90 C256.93,274.90 262.16,265.89 261.48,255.70 C260.30,250.70 249.01,250.50 244.80,253.00 Z" fill="url(#slb)" stroke="#333" stroke-width="0.6" />
<path d="M229.64,256.70 C229.97,252.60 239.75,251.80 244.20,253.80 M245.40,253.80 C249.86,251.80 259.63,252.60 259.97,256.70" fill="none" stroke="#a6a6a6" stroke-width="1.1" opacity="0.6" filter="url(#blur05)"/>
<path d="M237.22,257.20 Q242.80,257.70 244.80,260.70 Q246.80,257.70 252.38,257.20" fill="none" stroke="#3a3a3a" stroke-width="1.1" opacity="0.45" filter="url(#blur05)"/>
<path d="M249.01,253.40 C254.91,252.00 259.97,253.20 260.81,256.20 L259.12,261.70 C254.91,260.20 252.38,257.20 249.01,253.40 Z" fill="#dadada" stroke="none" stroke-width="0" opacity="0.61" filter="url(#blur07)"/>
<line x1="244.80" y1="253.60" x2="244.80" y2="259.70" stroke="#4a4a4a" stroke-width="0.5" opacity="0.7"/>
<circle cx="241.60" cy="257.70" r="1.10" fill="#8a8a8a" opacity="0.6"/>
<circle cx="248.00" cy="257.70" r="1.10" fill="#8a8a8a" opacity="0.6"/>
<path d="M244.80,267.20 C240.88,264.70 230.36,264.90 229.26,269.90 C228.63,281.15 233.50,290.80 244.80,290.80 C256.10,290.80 260.97,281.15 260.34,269.90 C259.24,264.90 248.73,264.70 244.80,267.20 Z" fill="url(#slg)" stroke="#333" stroke-width="0.6" />
<path d="M230.67,270.90 C230.98,266.80 240.09,266.00 244.20,268.00 M245.40,268.00 C249.51,266.00 258.62,266.80 258.93,270.90" fill="none" stroke="#a6a6a6" stroke-width="1.1" opacity="0.6" filter="url(#blur05)"/>
<path d="M237.74,271.40 Q242.80,271.90 244.80,274.90 Q246.80,271.90 251.87,271.40" fill="none" stroke="#3a3a3a" stroke-width="1.1" opacity="0.45" filter="url(#blur05)"/>
<line x1="244.80" y1="267.80" x2="244.80" y2="273.90" stroke="#4a4a4a" stroke-width="0.5" opacity="0.7"/>
<circle cx="241.60" cy="271.90" r="1.10" fill="#8a8a8a" opacity="0.6"/>
<circle cx="248.00" cy="271.90" r="1.10" fill="#8a8a8a" opacity="0.6"/>
<path d="M244.80,283.10 C241.19,280.60 231.51,280.80 230.49,285.80 C229.92,296.55 234.40,305.90 244.80,305.90 C255.20,305.90 259.68,296.55 259.11,285.80 C258.09,280.80 248.41,280.60 244.80,283.10 Z" fill="url(#slg)" stroke="#333" stroke-width="0.6" />
<path d="M231.80,286.80 C232.08,282.70 240.47,281.90 244.20,283.90 M245.40,283.90 C249.14,281.90 257.52,282.70 257.81,286.80" fill="none" stroke="#a6a6a6" stroke-width="1.1" opacity="0.6" filter="url(#blur05)"/>
<path d="M238.30,287.30 Q242.80,287.80 244.80,290.80 Q246.80,287.80 251.30,287.30" fill="none" stroke="#3a3a3a" stroke-width="1.1" opacity="0.45" filter="url(#blur05)"/>
<line x1="244.80" y1="283.70" x2="244.80" y2="289.80" stroke="#4a4a4a" stroke-width="0.5" opacity="0.7"/>
<path d="M244.80,298.20 C241.96,295.70 234.36,295.90 233.56,300.90 C233.11,307.37 236.63,314.10 244.80,314.10 C252.97,314.10 256.49,307.37 256.04,300.90 C255.24,295.90 247.64,295.70 244.80,298.20 Z" fill="url(#slb)" stroke="#333" stroke-width="0.6" />
<line x1="244.80" y1="309.10" x2="244.80" y2="313.80" stroke="#3a3a3a" stroke-width="0.8" opacity="0.7"/>
<path d="M234.59,301.90 C234.81,297.80 241.40,297.00 244.20,299.00 M245.40,299.00 C248.21,297.00 254.79,297.80 255.02,301.90" fill="none" stroke="#a6a6a6" stroke-width="1.1" opacity="0.6" filter="url(#blur05)"/>
<line x1="244.80" y1="298.80" x2="244.80" y2="304.90" stroke="#4a4a4a" stroke-width="0.5" opacity="0.7"/>
<path d="M298.60,198.00 C294.60,195.50 283.88,195.70 282.76,200.70 C282.12,208.66 287.08,216.30 298.60,216.30 C310.12,216.30 315.08,208.66 314.44,200.70 C313.32,195.70 302.60,195.50 298.60,198.00 Z" fill="url(#sld)" stroke="#333" stroke-width="0.6" />
<path d="M284.20,201.70 C284.52,197.60 293.80,196.80 298.00,198.80 M299.20,198.80 C303.40,196.80 312.68,197.60 313.00,201.70" fill="none" stroke="#a6a6a6" stroke-width="1.1" opacity="0.6" filter="url(#blur05)"/>
<line x1="298.60" y1="198.60" x2="298.60" y2="204.70" stroke="#4a4a4a" stroke-width="0.5" opacity="0.7"/>
<path d="M298.60,208.60 C294.39,206.10 283.10,206.30 281.92,211.30 C281.24,220.44 286.47,228.80 298.60,228.80 C310.73,228.80 315.96,220.44 315.28,211.30 C314.10,206.30 302.81,206.10 298.60,208.60 Z" fill="url(#slg)" stroke="#333" stroke-width="0.6" />
<path d="M283.44,212.30 C283.77,208.20 293.55,207.40 298.00,209.40 M299.20,209.40 C303.66,207.40 313.43,208.20 313.77,212.30" fill="none" stroke="#a6a6a6" stroke-width="1.1" opacity="0.6" filter="url(#blur05)"/>
<path d="M291.02,212.80 Q296.60,213.30 298.60,216.30 Q300.60,213.30 306.18,212.80" fill="none" stroke="#3a3a3a" stroke-width="1.1" opacity="0.45" filter="url(#blur05)"/>
<line x1="298.60" y1="209.20" x2="298.60" y2="215.30" stroke="#4a4a4a" stroke-width="0.5" opacity="0.7"/>
<path d="M298.60,221.10 C294.10,218.60 282.04,218.80 280.78,223.80 C280.06,232.88 285.64,241.20 298.60,241.20 C311.56,241.20 317.14,232.88 316.42,223.80 C315.16,218.80 303.10,218.60 298.60,221.10 Z" fill="url(#slg)" stroke="#333" stroke-width="0.6" />
<path d="M282.40,224.80 C282.76,220.70 293.20,219.90 298.00,221.90 M299.20,221.90 C304.00,219.90 314.44,220.70 314.80,224.80" fill="none" stroke="#a6a6a6" stroke-width="1.1" opacity="0.6" filter="url(#blur05)"/>
<path d="M290.50,225.30 Q296.60,225.80 298.60,228.80 Q300.60,225.80 306.70,225.30" fill="none" stroke="#3a3a3a" stroke-width="1.1" opacity="0.45" filter="url(#blur05)"/>
<path d="M303.10,221.50 C309.40,220.10 314.80,221.30 315.70,224.30 L313.90,229.80 C309.40,228.30 306.70,225.30 303.10,221.50 Z" fill="#dadada" stroke="none" stroke-width="0" opacity="0.50" filter="url(#blur07)"/>
<line x1="298.60" y1="221.70" x2="298.60" y2="227.80" stroke="#4a4a4a" stroke-width="0.5" opacity="0.7"/>
<circle cx="295.40" cy="225.80" r="1.10" fill="#8a8a8a" opacity="0.6"/>
<circle cx="301.80" cy="225.80" r="1.10" fill="#8a8a8a" opacity="0.6"/>
<path d="M298.60,233.50 C293.98,231.00 281.58,231.20 280.29,236.20 C279.55,247.45 285.28,257.10 298.60,257.10 C311.92,257.10 317.66,247.45 316.92,236.20 C315.62,231.20 303.23,231.00 298.60,233.50 Z" fill="url(#slg)" stroke="#333" stroke-width="0.6" />
<path d="M281.95,237.20 C282.32,233.10 293.05,232.30 298.00,234.30 M299.20,234.30 C304.15,232.30 314.88,233.10 315.25,237.20" fill="none" stroke="#a6a6a6" stroke-width="1.1" opacity="0.6" filter="url(#blur05)"/>
<path d="M290.28,237.70 Q296.60,238.20 298.60,241.20 Q300.60,238.20 306.93,237.70" fill="none" stroke="#3a3a3a" stroke-width="1.1" opacity="0.45" filter="url(#blur05)"/>
<path d="M303.23,233.90 C309.70,232.50 315.25,233.70 316.18,236.70 L314.33,242.20 C309.70,240.70 306.93,237.70 303.23,233.90 Z" fill="#dadada" stroke="none" stroke-width="0" opacity="0.55" filter="url(#blur07)"/>
<line x1="298.60" y1="234.10" x2="298.60" y2="240.20" stroke="#4a4a4a" stroke-width="0.5" opacity="0.7"/>
<circle cx="295.40" cy="238.20" r="1.10" fill="#8a8a8a" opacity="0.6"/>
<circle cx="301.80" cy="238.20" r="1.10" fill="#8a8a8a" opacity="0.6"/>
<path d="M298.60,249.40 C294.16,246.90 282.27,247.10 281.03,252.10 C280.32,263.41 285.82,273.10 298.60,273.10 C311.38,273.10 316.88,263.41 316.17,252.10 C314.93,247.10 303.04,246.90 298.60,249.40 Z" fill="url(#slb)" stroke="#333" stroke-width="0.6" />
<path d="M282.62,253.10 C282.98,249.00 293.28,248.20 298.00,250.20 M299.20,250.20 C303.93,248.20 314.22,249.00 314.58,253.10" fill="none" stroke="#a6a6a6" stroke-width="1.1" opacity="0.6" filter="url(#blur05)"/>
<path d="M290.61,253.60 Q296.60,254.10 298.60,257.10 Q300.60,254.10 306.59,253.60" fill="none" stroke="#3a3a3a" stroke-width="1.1" opacity="0.45" filter="url(#blur05)"/>
<path d="M303.04,249.80 C309.25,248.40 314.58,249.60 315.46,252.60 L313.69,258.10 C309.25,256.60 306.59,253.60 303.04,249.80 Z" fill="#dadada" stroke="none" stroke-width="0" opacity="0.39" filter="url(#blur07)"/>
<line x1="298.60" y1="250.00" x2="298.60" y2="256.10" stroke="#4a4a4a" stroke-width="0.5" opacity="0.7"/>
<circle cx="295.40" cy="254.10" r="1.10" fill="#8a8a8a" opacity="0.6"/>
<circle cx="301.80" cy="254.10" r="1.10" fill="#8a8a8a" opacity="0.6"/>
<path d="M298.60,265.40 C294.48,262.90 283.42,263.10 282.27,268.10 C281.61,279.91 286.72,289.90 298.60,289.90 C310.48,289.90 315.60,279.91 314.94,268.10 C313.78,263.10 302.73,262.90 298.60,265.40 Z" fill="url(#slg)" stroke="#333" stroke-width="0.6" />
<path d="M283.75,269.10 C284.08,265.00 293.65,264.20 298.00,266.20 M299.20,266.20 C303.55,264.20 313.12,265.00 313.45,269.10" fill="none" stroke="#a6a6a6" stroke-width="1.1" opacity="0.6" filter="url(#blur05)"/>
<path d="M291.18,269.60 Q296.60,270.10 298.60,273.10 Q300.60,270.10 306.03,269.60" fill="none" stroke="#3a3a3a" stroke-width="1.1" opacity="0.45" filter="url(#blur05)"/>
<line x1="298.60" y1="266.00" x2="298.60" y2="272.10" stroke="#4a4a4a" stroke-width="0.5" opacity="0.7"/>
<circle cx="295.40" cy="270.10" r="1.10" fill="#8a8a8a" opacity="0.6"/>
<circle cx="301.80" cy="270.10" r="1.10" fill="#8a8a8a" opacity="0.6"/>
<path d="M298.60,282.20 C294.79,279.70 284.57,279.90 283.50,284.90 C282.89,296.21 287.62,305.90 298.60,305.90 C309.58,305.90 314.31,296.21 313.70,284.90 C312.63,279.90 302.41,279.70 298.60,282.20 Z" fill="url(#slg)" stroke="#333" stroke-width="0.6" />
<path d="M284.88,285.90 C285.18,281.80 294.03,281.00 298.00,283.00 M299.20,283.00 C303.18,281.00 312.02,281.80 312.33,285.90" fill="none" stroke="#a6a6a6" stroke-width="1.1" opacity="0.6" filter="url(#blur05)"/>
<path d="M291.74,286.40 Q296.60,286.90 298.60,289.90 Q300.60,286.90 305.46,286.40" fill="none" stroke="#3a3a3a" stroke-width="1.1" opacity="0.45" filter="url(#blur05)"/>
<line x1="298.60" y1="282.80" x2="298.60" y2="288.90" stroke="#4a4a4a" stroke-width="0.5" opacity="0.7"/>
<path d="M298.60,298.20 C295.73,295.70 288.02,295.90 287.22,300.90 C286.75,309.05 290.32,316.80 298.60,316.80 C306.88,316.80 310.45,309.05 309.99,300.90 C309.18,295.90 301.48,295.70 298.60,298.20 Z" fill="url(#slb)" stroke="#333" stroke-width="0.6" />
<line x1="298.60" y1="311.80" x2="298.60" y2="316.50" stroke="#3a3a3a" stroke-width="0.8" opacity="0.7"/>
<path d="M288.25,301.90 C288.48,297.80 295.15,297.00 298.00,299.00 M299.20,299.00 C302.05,297.00 308.72,297.80 308.95,301.90" fill="none" stroke="#a6a6a6" stroke-width="1.1" opacity="0.6" filter="url(#blur05)"/>
<line x1="298.60" y1="298.80" x2="298.60" y2="304.90" stroke="#4a4a4a" stroke-width="0.5" opacity="0.7"/>
<path d="M352.70,198.00 C348.26,195.50 336.37,195.70 335.13,200.70 C334.42,209.22 339.92,217.20 352.70,217.20 C365.48,217.20 370.98,209.22 370.27,200.70 C369.03,195.70 357.14,195.50 352.70,198.00 Z" fill="url(#sld)" stroke="#333" stroke-width="0.6" />
<path d="M336.72,201.70 C337.08,197.60 347.38,196.80 352.10,198.80 M353.30,198.80 C358.02,196.80 368.32,197.60 368.68,201.70" fill="none" stroke="#a6a6a6" stroke-width="1.1" opacity="0.6" filter="url(#blur05)"/>
<line x1="352.70" y1="198.60" x2="352.70" y2="204.70" stroke="#4a4a4a" stroke-width="0.5" opacity="0.7"/>
<path d="M352.70,209.50 C347.82,207.00 334.76,207.20 333.39,212.20 C332.62,222.21 338.66,231.10 352.70,231.10 C366.74,231.10 372.78,222.21 372.00,212.20 C370.64,207.20 357.57,207.00 352.70,209.50 Z" fill="url(#slg)" stroke="#333" stroke-width="0.6" />
<path d="M335.15,213.20 C335.54,209.10 346.85,208.30 352.10,210.30 M353.30,210.30 C358.55,208.30 369.86,209.10 370.25,213.20" fill="none" stroke="#a6a6a6" stroke-width="1.1" opacity="0.6" filter="url(#blur05)"/>
<path d="M343.93,213.70 Q350.70,214.20 352.70,217.20 Q354.70,214.20 361.47,213.70" fill="none" stroke="#3a3a3a" stroke-width="1.1" opacity="0.45" filter="url(#blur05)"/>
<line x1="352.70" y1="210.10" x2="352.70" y2="216.20" stroke="#4a4a4a" stroke-width="0.5" opacity="0.7"/>
<path d="M352.70,223.40 C347.82,220.90 334.76,221.10 333.39,226.10 C332.62,235.36 338.66,243.80 352.70,243.80 C366.74,243.80 372.78,235.36 372.00,226.10 C370.64,221.10 357.57,220.90 352.70,223.40 Z" fill="url(#slg)" stroke="#333" stroke-width="0.6" />
<path d="M335.15,227.10 C335.54,223.00 346.85,222.20 352.10,224.20 M353.30,224.20 C358.55,222.20 369.86,223.00 370.25,227.10" fill="none" stroke="#a6a6a6" stroke-width="1.1" opacity="0.6" filter="url(#blur05)"/>
<path d="M343.93,227.60 Q350.70,228.10 352.70,231.10 Q354.70,228.10 361.47,227.60" fill="none" stroke="#3a3a3a" stroke-width="1.1" opacity="0.45" filter="url(#blur05)"/>
<line x1="352.70" y1="224.00" x2="352.70" y2="230.10" stroke="#4a4a4a" stroke-width="0.5" opacity="0.7"/>
<circle cx="349.50" cy="228.10" r="1.10" fill="#8a8a8a" opacity="0.6"/>
<circle cx="355.90" cy="228.10" r="1.10" fill="#8a8a8a" opacity="0.6"/>
<path d="M352.70,236.10 C347.95,233.60 335.22,233.80 333.89,238.80 C333.13,250.11 339.02,259.80 352.70,259.80 C366.38,259.80 372.27,250.11 371.51,238.80 C370.18,233.80 357.45,233.60 352.70,236.10 Z" fill="url(#slg)" stroke="#333" stroke-width="0.6" />
<path d="M335.60,239.80 C335.98,235.70 347.00,234.90 352.10,236.90 M353.30,236.90 C358.40,234.90 369.42,235.70 369.80,239.80" fill="none" stroke="#a6a6a6" stroke-width="1.1" opacity="0.6" filter="url(#blur05)"/>
<path d="M344.15,240.30 Q350.70,240.80 352.70,243.80 Q354.70,240.80 361.25,240.30" fill="none" stroke="#3a3a3a" stroke-width="1.1" opacity="0.45" filter="url(#blur05)"/>
<path d="M357.45,236.50 C364.10,235.10 369.80,236.30 370.75,239.30 L368.85,244.80 C364.10,243.30 361.25,240.30 357.45,236.50 Z" fill="#dadada" stroke="none" stroke-width="0" opacity="0.61" filter="url(#blur07)"/>
<line x1="352.70" y1="236.70" x2="352.70" y2="242.80" stroke="#4a4a4a" stroke-width="0.5" opacity="0.7"/>
<circle cx="349.50" cy="240.80" r="1.10" fill="#8a8a8a" opacity="0.6"/>
<circle cx="355.90" cy="240.80" r="1.10" fill="#8a8a8a" opacity="0.6"/>
<path d="M352.70,252.10 C348.16,249.60 336.00,249.80 334.73,254.80 C334.01,265.55 339.63,274.90 352.70,274.90 C365.77,274.90 371.39,265.55 370.67,254.80 C369.40,249.80 357.24,249.60 352.70,252.10 Z" fill="url(#slb)" stroke="#333" stroke-width="0.6" />
<path d="M336.37,255.80 C336.73,251.70 347.25,250.90 352.10,252.90 M353.30,252.90 C358.14,250.90 368.67,251.70 369.03,255.80" fill="none" stroke="#a6a6a6" stroke-width="1.1" opacity="0.6" filter="url(#blur05)"/>
<path d="M344.53,256.30 Q350.70,256.80 352.70,259.80 Q354.70,256.80 360.87,256.30" fill="none" stroke="#3a3a3a" stroke-width="1.1" opacity="0.45" filter="url(#blur05)"/>
<path d="M357.24,252.50 C363.59,251.10 369.03,252.30 369.94,255.30 L368.13,260.80 C363.59,259.30 360.87,256.30 357.24,252.50 Z" fill="#dadada" stroke="none" stroke-width="0" opacity="0.99" filter="url(#blur07)"/>
<line x1="352.70" y1="252.70" x2="352.70" y2="258.80" stroke="#4a4a4a" stroke-width="0.5" opacity="0.7"/>
<circle cx="349.50" cy="256.80" r="1.10" fill="#8a8a8a" opacity="0.6"/>
<circle cx="355.90" cy="256.80" r="1.10" fill="#8a8a8a" opacity="0.6"/>
<path d="M352.70,267.20 C348.60,264.70 337.61,264.90 336.46,269.90 C335.81,280.59 340.89,289.90 352.70,289.90 C364.51,289.90 369.59,280.59 368.94,269.90 C367.79,264.90 356.80,264.70 352.70,267.20 Z" fill="url(#slg)" stroke="#333" stroke-width="0.6" />
<path d="M337.94,270.90 C338.27,266.80 347.78,266.00 352.10,268.00 M353.30,268.00 C357.62,266.00 367.13,266.80 367.46,270.90" fill="none" stroke="#a6a6a6" stroke-width="1.1" opacity="0.6" filter="url(#blur05)"/>
<path d="M345.32,271.40 Q350.70,271.90 352.70,274.90 Q354.70,271.90 360.08,271.40" fill="none" stroke="#3a3a3a" stroke-width="1.1" opacity="0.45" filter="url(#blur05)"/>
<path d="M356.80,267.60 C362.54,266.20 367.46,267.40 368.28,270.40 L366.64,275.90 C362.54,274.40 360.08,271.40 356.80,267.60 Z" fill="#dadada" stroke="none" stroke-width="0" opacity="0.77" filter="url(#blur07)"/>
<line x1="352.70" y1="267.80" x2="352.70" y2="273.90" stroke="#4a4a4a" stroke-width="0.5" opacity="0.7"/>
<circle cx="349.50" cy="271.90" r="1.10" fill="#8a8a8a" opacity="0.6"/>
<circle cx="355.90" cy="271.90" r="1.10" fill="#8a8a8a" opacity="0.6"/>
<path d="M352.70,282.20 C349.49,279.70 340.88,279.90 339.98,284.90 C339.46,295.09 343.45,304.10 352.70,304.10 C361.95,304.10 365.94,295.09 365.42,284.90 C364.52,279.90 355.91,279.70 352.70,282.20 Z" fill="url(#slg)" stroke="#333" stroke-width="0.6" />
<path d="M341.13,285.90 C341.39,281.80 348.84,281.00 352.10,283.00 M353.30,283.00 C356.56,281.00 364.01,281.80 364.26,285.90" fill="none" stroke="#a6a6a6" stroke-width="1.1" opacity="0.6" filter="url(#blur05)"/>
<path d="M346.92,286.40 Q350.70,286.90 352.70,289.90 Q354.70,286.90 358.48,286.40" fill="none" stroke="#3a3a3a" stroke-width="1.1" opacity="0.45" filter="url(#blur05)"/>
<line x1="352.70" y1="282.80" x2="352.70" y2="288.90" stroke="#4a4a4a" stroke-width="0.5" opacity="0.7"/>
<path d="M352.70,296.40 C349.95,293.90 342.58,294.10 341.81,299.10 C341.37,306.69 344.78,314.10 352.70,314.10 C360.62,314.10 364.03,306.69 363.59,299.10 C362.82,294.10 355.45,293.90 352.70,296.40 Z" fill="url(#slb)" stroke="#333" stroke-width="0.6" />
<line x1="352.70" y1="309.10" x2="352.70" y2="313.80" stroke="#3a3a3a" stroke-width="0.8" opacity="0.7"/>
<path d="M342.80,300.10 C343.02,296.00 349.40,295.20 352.10,297.20 M353.30,297.20 C356.00,295.20 362.38,296.00 362.60,300.10" fill="none" stroke="#a6a6a6" stroke-width="1.1" opacity="0.6" filter="url(#blur05)"/>
<line x1="352.70" y1="297.00" x2="352.70" y2="303.10" stroke="#4a4a4a" stroke-width="0.5" opacity="0.7"/>
<text x="193.00" y="325.00" font-size="6.5" text-anchor="middle" fill="#2a2a2a" font-weight="normal" font-style="normal" >STZ</text>
<text x="242.80" y="325.00" font-size="6.5" text-anchor="middle" fill="#2a2a2a" font-weight="normal" font-style="normal" >STZ-rtPA</text>
<text x="297.90" y="325.00" font-size="6.5" text-anchor="middle" fill="#2a2a2a" font-weight="normal" font-style="normal" >STZ-NAC</text>
<text x="354.40" y="325.00" font-size="6.5" text-anchor="middle" fill="#2a2a2a" font-weight="normal" font-style="normal" >STZ-NAC-rtPA</text>
<rect x="186.30" y="329.00" width="12.60" height="2.00" fill="#86b884" />
<rect x="236.70" y="329.00" width="12.60" height="2.00" fill="#8f7fa3" />
<rect x="291.70" y="329.00" width="12.60" height="2.00" fill="#c65f72" />
<rect x="348.30" y="329.00" width="12.60" height="2.00" fill="#6f88a2" />
<line x1="400.70" y1="185.60" x2="400.70" y2="317.90" stroke="#1a1a1a" stroke-width="1.25" />
<line x1="400.20" y1="317.40" x2="487.80" y2="317.40" stroke="#1a1a1a" stroke-width="1.25" />
<line x1="400.70" y1="317.40" x2="400.70" y2="320.00" stroke="#222" stroke-width="0.9" />
<text x="400.70" y="330.00" font-size="6.6" text-anchor="middle" fill="#222" font-weight="normal" font-style="normal" >0</text>
<line x1="443.05" y1="317.40" x2="443.05" y2="320.00" stroke="#222" stroke-width="0.9" />
<text x="443.05" y="330.00" font-size="6.6" text-anchor="middle" fill="#222" font-weight="normal" font-style="normal" >5</text>
<line x1="485.40" y1="317.40" x2="485.40" y2="320.00" stroke="#222" stroke-width="0.9" />
<text x="485.40" y="330.00" font-size="6.6" text-anchor="middle" fill="#222" font-weight="normal" font-style="normal" >10</text>
<text transform="translate(444.2,342.5) scale(0.925,1)" font-size="7" stroke="#222" stroke-width="0.2" text-anchor="middle" fill="#222">Infarct area (mm<tspan font-size="5" dy="-2.5">2</tspan><tspan dy="2.5">)</tspan></text>
<text transform="translate(495.0,250.8) rotate(90) scale(0.9,1)" font-size="7" stroke="#222" stroke-width="0.2" text-anchor="middle" fill="#222">Distance from bregma (mm)</text>
<line x1="398.10" y1="198.10" x2="400.70" y2="198.10" stroke="#222" stroke-width="0.9" />
<text x="394.10" y="200.50" font-size="6.6" text-anchor="end" fill="#333" font-weight="normal" font-style="normal" >β−4</text>
<line x1="398.10" y1="213.60" x2="400.70" y2="213.60" stroke="#222" stroke-width="0.9" />
<text x="394.10" y="216.00" font-size="6.6" text-anchor="end" fill="#333" font-weight="normal" font-style="normal" >β−3</text>
<line x1="398.10" y1="228.90" x2="400.70" y2="228.90" stroke="#222" stroke-width="0.9" />
<text x="394.10" y="231.30" font-size="6.6" text-anchor="end" fill="#333" font-weight="normal" font-style="normal" >β−2</text>
<line x1="398.10" y1="244.20" x2="400.70" y2="244.20" stroke="#222" stroke-width="0.9" />
<text x="394.10" y="246.60" font-size="6.6" text-anchor="end" fill="#333" font-weight="normal" font-style="normal" >β−1</text>
<line x1="398.10" y1="259.70" x2="400.70" y2="259.70" stroke="#222" stroke-width="0.9" />
<text x="394.10" y="262.10" font-size="6.6" text-anchor="end" fill="#333" font-weight="normal" font-style="normal" >β</text>
<line x1="398.10" y1="275.20" x2="400.70" y2="275.20" stroke="#222" stroke-width="0.9" />
<text x="394.10" y="277.60" font-size="6.6" text-anchor="end" fill="#333" font-weight="normal" font-style="normal" >β+1</text>
<line x1="398.10" y1="290.80" x2="400.70" y2="290.80" stroke="#222" stroke-width="0.9" />
<text x="394.10" y="293.20" font-size="6.6" text-anchor="end" fill="#333" font-weight="normal" font-style="normal" >β+2</text>
<line x1="398.10" y1="306.40" x2="400.70" y2="306.40" stroke="#222" stroke-width="0.9" />
<text x="394.10" y="308.80" font-size="6.6" text-anchor="end" fill="#333" font-weight="normal" font-style="normal" >β+3</text>
<path d="M407.14,191.50 L419.00,198.10 L430.77,207.10 L438.31,213.60 L451.18,228.90 L461.26,236.60 L462.70,244.20 L462.11,251.40 L460.84,259.70 L458.97,275.20 L455.33,282.70 L447.45,290.80 L421.71,306.40 L404.34,312.80 L402.65,312.80 L416.62,306.40 L440.68,290.80 L447.71,282.70 L451.35,275.20 L453.21,259.70 L454.48,251.40 L455.08,244.20 L454.48,236.60 L444.41,228.90 L431.53,213.60 L424.84,207.10 L413.91,198.10 L405.44,191.50 Z" fill="#b2e0a8" stroke="none" stroke-width="0" opacity="0.8"/>
<path d="M407.14,191.50 L419.84,198.10 L432.04,207.10 L440.00,213.60 L454.15,228.90 L464.82,236.60 L465.75,244.20 L467.19,251.40 L468.46,259.70 L461.68,275.20 L449.23,282.70 L438.73,290.80 L419.42,306.40 L404.34,312.80 L402.65,312.80 L413.49,306.40 L431.11,290.80 L440.76,282.70 L452.37,275.20 L458.30,259.70 L457.03,251.40 L455.59,244.20 L454.65,236.60 L443.13,228.90 L429.84,213.60 L423.57,207.10 L413.07,198.10 L405.44,191.50 Z" fill="#c9b3e2" stroke="none" stroke-width="0" opacity="0.8"/>
<path d="M407.14,191.50 L411.54,198.10 L415.10,207.10 L422.55,213.60 L435.43,228.90 L440.51,236.60 L445.59,244.20 L451.52,251.40 L451.94,259.70 L449.66,275.20 L441.78,282.70 L429.41,290.80 L413.40,306.40 L404.34,312.80 L402.65,312.80 L408.32,306.40 L421.79,290.80 L433.31,282.70 L440.34,275.20 L441.78,259.70 L441.36,251.40 L435.43,244.20 L430.34,236.60 L425.26,228.90 L414.08,213.60 L408.32,207.10 L406.46,198.10 L405.44,191.50 Z" fill="#f6b3b8" stroke="none" stroke-width="0" opacity="0.8"/>
<path d="M401.55,191.50 L409.25,198.10 L414.68,207.10 L420.18,213.60 L430.68,228.90 L435.43,236.60 L440.00,244.20 L443.47,251.40 L446.44,259.70 L445.59,275.20 L435.00,282.70 L422.55,290.80 L410.61,306.40 L404.34,312.80 L402.65,312.80 L405.53,306.40 L415.78,290.80 L427.38,282.70 L437.12,275.20 L437.97,259.70 L434.16,251.40 L429.84,244.20 L425.26,236.60 L420.52,228.90 L410.86,213.60 L407.05,207.10 L403.33,198.10 L400.70,191.50 Z" fill="#b3c3e6" stroke="none" stroke-width="0" opacity="0.8"/>
<path d="M406.29,191.50 L416.45,198.10 L427.80,207.10 L434.92,213.60 L447.79,228.90 L457.87,236.60 L458.89,244.20 L458.30,251.40 L457.03,259.70 L455.16,275.20 L451.52,282.70 L444.07,290.80 L419.16,306.40 L403.50,312.80" fill="none" stroke="#2f8f2f" stroke-width="0.9" stroke-linejoin="round"/>
<path d="M406.29,191.50 L416.45,198.10 L427.80,207.10 L434.92,213.60 L448.64,228.90 L459.74,236.60 L460.67,244.20 L462.11,251.40 L463.38,259.70 L457.03,275.20 L445.00,282.70 L434.92,290.80 L416.45,306.40 L403.50,312.80" fill="none" stroke="#3a3a3a" stroke-width="0.9" stroke-linejoin="round"/>
<path d="M406.29,191.50 L409.00,198.10 L411.71,207.10 L418.32,213.60 L430.34,228.90 L435.43,236.60 L440.51,244.20 L446.44,251.40 L446.86,259.70 L445.00,275.20 L437.54,282.70 L425.60,290.80 L410.86,306.40 L403.50,312.80" fill="none" stroke="#c8102e" stroke-width="0.9" stroke-linejoin="round"/>
<path d="M400.70,191.50 L406.29,198.10 L410.86,207.10 L415.52,213.60 L425.60,228.90 L430.34,236.60 L434.92,244.20 L438.81,251.40 L442.20,259.70 L441.36,275.20 L431.19,282.70 L419.16,290.80 L408.07,306.40 L403.50,312.80" fill="none" stroke="#1f4e8c" stroke-width="0.9" stroke-linejoin="round"/>
<text x="7.60" y="386.30" font-size="12.2" text-anchor="start" fill="#111" font-weight="bold" font-style="normal" stroke="#111" stroke-width="0.3">D</text>
<line x1="50.80" y1="403.80" x2="50.80" y2="507.40" stroke="#1a1a1a" stroke-width="1.3" />
<line x1="50.30" y1="506.90" x2="203.00" y2="506.90" stroke="#1a1a1a" stroke-width="1.3" />
<line x1="48.20" y1="506.90" x2="50.80" y2="506.90" stroke="#222" stroke-width="0.9" />
<text x="45.40" y="509.20" font-size="6.6" text-anchor="end" fill="#222" font-weight="normal" font-style="normal" >0</text>
<line x1="48.20" y1="486.40" x2="50.80" y2="486.40" stroke="#222" stroke-width="0.9" />
<text x="45.40" y="488.70" font-size="6.6" text-anchor="end" fill="#222" font-weight="normal" font-style="normal" >20</text>
<line x1="48.20" y1="465.90" x2="50.80" y2="465.90" stroke="#222" stroke-width="0.9" />
<text x="45.40" y="468.20" font-size="6.6" text-anchor="end" fill="#222" font-weight="normal" font-style="normal" >40</text>
<line x1="48.20" y1="445.40" x2="50.80" y2="445.40" stroke="#222" stroke-width="0.9" />
<text x="45.40" y="447.70" font-size="6.6" text-anchor="end" fill="#222" font-weight="normal" font-style="normal" >60</text>
<line x1="48.20" y1="424.90" x2="50.80" y2="424.90" stroke="#222" stroke-width="0.9" />
<text x="45.40" y="427.20" font-size="6.6" text-anchor="end" fill="#222" font-weight="normal" font-style="normal" >80</text>
<line x1="48.20" y1="404.40" x2="50.80" y2="404.40" stroke="#222" stroke-width="0.9" />
<text x="45.40" y="406.70" font-size="6.6" text-anchor="end" fill="#222" font-weight="normal" font-style="normal" >100</text>
<text transform="translate(27.3,454.2) rotate(-90) scale(0.78,1)" font-size="8.2" stroke="#222" stroke-width="0.2" text-anchor="middle" fill="#222">% of animals</text>
<rect x="62.90" y="405.40" width="22.70" height="13.80" fill="#0d6b50" />
<rect x="62.90" y="419.20" width="22.70" height="44.60" fill="#b5c496" />
<rect x="62.90" y="463.80" width="22.70" height="43.10" fill="#f5900a" />
<text x="74.25" y="414.75" font-size="6.8" text-anchor="middle" fill="#fff" font-weight="normal" font-style="normal" >14%</text>
<text x="74.25" y="443.95" font-size="6.8" text-anchor="middle" fill="#4a4f36" font-weight="normal" font-style="normal" >43%</text>
<text x="74.25" y="487.80" font-size="6.8" text-anchor="middle" fill="#5a3810" font-weight="normal" font-style="normal" >43%</text>
<rect x="98.10" y="405.40" width="22.70" height="78.40" fill="#0d6b50" />
<rect x="98.10" y="483.80" width="22.70" height="15.20" fill="#b5c496" />
<rect x="98.10" y="499.00" width="22.70" height="7.90" fill="#f5900a" />
<text x="109.45" y="447.05" font-size="6.8" text-anchor="middle" fill="#fff" font-weight="normal" font-style="normal" >77%</text>
<text x="109.45" y="493.85" font-size="6.8" text-anchor="middle" fill="#4a4f36" font-weight="normal" font-style="normal" >15%</text>
<text x="109.45" y="505.40" font-size="6.8" text-anchor="middle" fill="#5a3810" font-weight="normal" font-style="normal" >8%</text>
<rect x="133.40" y="406.70" width="22.60" height="65.00" fill="#0d6b50" />
<rect x="133.40" y="471.70" width="22.60" height="14.30" fill="#b5c496" />
<rect x="133.40" y="486.00" width="22.60" height="20.90" fill="#f5900a" />
<text x="144.70" y="441.65" font-size="6.8" text-anchor="middle" fill="#fff" font-weight="normal" font-style="normal" >64%</text>
<text x="144.70" y="481.30" font-size="6.8" text-anchor="middle" fill="#4a4f36" font-weight="normal" font-style="normal" >14%</text>
<text x="144.70" y="498.90" font-size="6.8" text-anchor="middle" fill="#5a3810" font-weight="normal" font-style="normal" >21%</text>
<rect x="168.40" y="405.40" width="22.60" height="79.60" fill="#0d6b50" />
<rect x="168.40" y="485.00" width="22.60" height="7.80" fill="#b5c496" />
<rect x="168.40" y="492.80" width="22.60" height="14.10" fill="#f5900a" />
<text x="179.70" y="447.65" font-size="6.8" text-anchor="middle" fill="#fff" font-weight="normal" font-style="normal" >79%</text>
<text x="179.70" y="491.35" font-size="6.8" text-anchor="middle" fill="#4a4f36" font-weight="normal" font-style="normal" >7%</text>
<text x="179.70" y="502.30" font-size="6.8" text-anchor="middle" fill="#5a3810" font-weight="normal" font-style="normal" >14%</text>
<line x1="74.50" y1="506.90" x2="74.50" y2="509.50" stroke="#222" stroke-width="0.9" />
<line x1="109.30" y1="506.90" x2="109.30" y2="509.50" stroke="#222" stroke-width="0.9" />
<line x1="144.60" y1="506.90" x2="144.60" y2="509.50" stroke="#222" stroke-width="0.9" />
<line x1="179.60" y1="506.90" x2="179.60" y2="509.50" stroke="#222" stroke-width="0.9" />
<text transform="translate(78.90,518.60) rotate(-45)" font-size="6.8" text-anchor="end" fill="#222">STZ</text>
<text transform="translate(113.70,518.60) rotate(-45)" font-size="6.8" text-anchor="end" fill="#222">STZ-rtPA</text>
<text transform="translate(149.00,518.60) rotate(-45)" font-size="6.8" text-anchor="end" fill="#222">STZ-NAC</text>
<text transform="translate(184.00,518.60) rotate(-45)" font-size="6.8" text-anchor="end" fill="#222">STZ-NAC-rtPA</text>
<line x1="72.50" y1="381.20" x2="179.60" y2="381.20" stroke="#2a2a2a" stroke-width="1.1" />
<text x="126.05" y="380.40" font-size="6.2" text-anchor="middle" fill="#333" font-weight="normal" font-style="normal" >**</text>
<line x1="72.50" y1="390.20" x2="145.00" y2="390.20" stroke="#2a2a2a" stroke-width="1.1" />
<text x="108.75" y="389.40" font-size="6.2" text-anchor="middle" fill="#333" font-weight="normal" font-style="normal" >*</text>
<line x1="72.50" y1="398.80" x2="109.80" y2="398.80" stroke="#2a2a2a" stroke-width="1.1" />
<text x="91.15" y="398.00" font-size="6.2" text-anchor="middle" fill="#333" font-weight="normal" font-style="normal" >**</text>
<rect x="204.00" y="440.60" width="5.80" height="5.80" fill="#0d6b50" />
<text x="213.30" y="445.30" font-size="6.5" text-anchor="start" fill="#2a2a2a" font-weight="normal" font-style="normal" >Complete Rec</text>
<rect x="204.00" y="451.30" width="5.80" height="5.80" fill="#b5c496" />
<text x="213.30" y="456.00" font-size="6.5" text-anchor="start" fill="#2a2a2a" font-weight="normal" font-style="normal" >Partial Rec</text>
<rect x="204.00" y="462.00" width="5.80" height="5.80" fill="#f5900a" />
<text x="213.30" y="466.70" font-size="6.5" text-anchor="start" fill="#2a2a2a" font-weight="normal" font-style="normal" >No Rec</text>
<text x="272.00" y="386.30" font-size="12.2" text-anchor="start" fill="#111" font-weight="bold" font-style="normal" stroke="#111" stroke-width="0.3">E</text>
<line x1="302.50" y1="403.80" x2="302.50" y2="507.50" stroke="#1a1a1a" stroke-width="1.3" />
<line x1="302.00" y1="507.00" x2="459.00" y2="507.00" stroke="#1a1a1a" stroke-width="1.3" />
<line x1="299.90" y1="507.00" x2="302.50" y2="507.00" stroke="#222" stroke-width="0.9" />
<text x="296.50" y="509.30" font-size="6.6" text-anchor="end" fill="#222" font-weight="normal" font-style="normal" >0</text>
<line x1="299.90" y1="486.52" x2="302.50" y2="486.52" stroke="#222" stroke-width="0.9" />
<text x="296.50" y="488.82" font-size="6.6" text-anchor="end" fill="#222" font-weight="normal" font-style="normal" >20</text>
<line x1="299.90" y1="466.04" x2="302.50" y2="466.04" stroke="#222" stroke-width="0.9" />
<text x="296.50" y="468.34" font-size="6.6" text-anchor="end" fill="#222" font-weight="normal" font-style="normal" >40</text>
<line x1="299.90" y1="445.56" x2="302.50" y2="445.56" stroke="#222" stroke-width="0.9" />
<text x="296.50" y="447.86" font-size="6.6" text-anchor="end" fill="#222" font-weight="normal" font-style="normal" >60</text>
<line x1="299.90" y1="425.08" x2="302.50" y2="425.08" stroke="#222" stroke-width="0.9" />
<text x="296.50" y="427.38" font-size="6.6" text-anchor="end" fill="#222" font-weight="normal" font-style="normal" >80</text>
<line x1="299.90" y1="404.60" x2="302.50" y2="404.60" stroke="#222" stroke-width="0.9" />
<text x="296.50" y="406.90" font-size="6.6" text-anchor="end" fill="#222" font-weight="normal" font-style="normal" >100</text>
<text transform="translate(278.6,456.9) rotate(-90) scale(0.78,1)" font-size="8.2" stroke="#222" stroke-width="0.2" text-anchor="middle" fill="#222">% of animals</text>
<rect x="314.60" y="404.60" width="23.00" height="58.40" fill="#8f80c0" />
<rect x="314.60" y="463.00" width="23.00" height="44.00" fill="#475366" />
<text x="326.10" y="436.30" font-size="7" text-anchor="middle" fill="#fff" font-weight="normal" font-style="normal" >57%</text>
<text x="326.10" y="487.50" font-size="7" text-anchor="middle" fill="#fff" font-weight="normal" font-style="normal" >43%</text>
<rect x="350.60" y="404.60" width="22.80" height="37.40" fill="#8f80c0" />
<rect x="350.60" y="442.00" width="22.80" height="65.00" fill="#475366" />
<text x="362.00" y="425.80" font-size="7" text-anchor="middle" fill="#fff" font-weight="normal" font-style="normal" >36%</text>
<text x="362.00" y="477.00" font-size="7" text-anchor="middle" fill="#fff" font-weight="normal" font-style="normal" >64%</text>
<rect x="386.50" y="404.60" width="23.20" height="65.20" fill="#8f80c0" />
<rect x="386.50" y="469.80" width="23.20" height="37.20" fill="#475366" />
<text x="398.10" y="439.70" font-size="7" text-anchor="middle" fill="#fff" font-weight="normal" font-style="normal" >64%</text>
<text x="398.10" y="490.90" font-size="7" text-anchor="middle" fill="#fff" font-weight="normal" font-style="normal" >36%</text>
<rect x="422.40" y="404.60" width="23.30" height="14.00" fill="#8f80c0" />
<rect x="422.40" y="418.60" width="23.30" height="88.40" fill="#475366" />
<text x="434.05" y="414.10" font-size="7" text-anchor="middle" fill="#fff" font-weight="normal" font-style="normal" >14%</text>
<text x="434.05" y="465.30" font-size="7" text-anchor="middle" fill="#fff" font-weight="normal" font-style="normal" >89%</text>
<line x1="326.10" y1="507.00" x2="326.10" y2="509.60" stroke="#222" stroke-width="0.9" />
<line x1="362.00" y1="507.00" x2="362.00" y2="509.60" stroke="#222" stroke-width="0.9" />
<line x1="398.10" y1="507.00" x2="398.10" y2="509.60" stroke="#222" stroke-width="0.9" />
<line x1="434.05" y1="507.00" x2="434.05" y2="509.60" stroke="#222" stroke-width="0.9" />
<text transform="translate(330.70,518.70) rotate(-45)" font-size="6.8" text-anchor="end" fill="#222">STZ</text>
<text transform="translate(366.60,518.70) rotate(-45)" font-size="6.8" text-anchor="end" fill="#222">STZ-rtPA</text>
<text transform="translate(402.70,518.70) rotate(-45)" font-size="6.8" text-anchor="end" fill="#222">STZ-NAC</text>
<text transform="translate(438.65,518.70) rotate(-45)" font-size="6.8" text-anchor="end" fill="#222">STZ-NAC-rtPA</text>
<line x1="327.00" y1="384.50" x2="438.00" y2="384.50" stroke="#2a2a2a" stroke-width="1.1" />
<text x="382.50" y="384.70" font-size="6.2" text-anchor="middle" fill="#333" font-weight="normal" font-style="normal" >*</text>
<line x1="397.00" y1="394.10" x2="438.00" y2="394.10" stroke="#2a2a2a" stroke-width="1.1" />
<text x="417.50" y="394.30" font-size="6.2" text-anchor="middle" fill="#333" font-weight="normal" font-style="normal" >*</text>
<rect x="458.30" y="446.50" width="6.00" height="5.60" fill="#8f80c0" />
<text x="468.10" y="450.80" font-size="6.45" text-anchor="start" fill="#2a2a2a" font-weight="normal" font-style="normal" >No hemorrhage</text>
<rect x="458.30" y="457.00" width="6.00" height="5.60" fill="#475366" />
<text x="468.10" y="461.30" font-size="6.45" text-anchor="start" fill="#2a2a2a" font-weight="normal" font-style="normal" >Hemorrhage</text>
<text x="7.60" y="575.60" font-size="12.2" text-anchor="start" fill="#111" font-weight="bold" font-style="normal" stroke="#111" stroke-width="0.3">F</text>
<line x1="50.90" y1="610.50" x2="50.90" y2="711.40" stroke="#1a1a1a" stroke-width="1.25" />
<line x1="50.40" y1="710.90" x2="203.20" y2="710.90" stroke="#1a1a1a" stroke-width="1.25" />
<line x1="48.30" y1="710.90" x2="50.90" y2="710.90" stroke="#222" stroke-width="0.9" />
<text x="43.90" y="713.20" font-size="6.6" text-anchor="end" fill="#222" font-weight="normal" font-style="normal" >0.6</text>
<line x1="48.30" y1="691.50" x2="50.90" y2="691.50" stroke="#222" stroke-width="0.9" />
<text x="43.90" y="693.80" font-size="6.6" text-anchor="end" fill="#222" font-weight="normal" font-style="normal" >0.7</text>
<line x1="48.30" y1="672.10" x2="50.90" y2="672.10" stroke="#222" stroke-width="0.9" />
<text x="43.90" y="674.40" font-size="6.6" text-anchor="end" fill="#222" font-weight="normal" font-style="normal" >0.8</text>
<line x1="48.30" y1="652.70" x2="50.90" y2="652.70" stroke="#222" stroke-width="0.9" />
<text x="43.90" y="655.00" font-size="6.6" text-anchor="end" fill="#222" font-weight="normal" font-style="normal" >0.9</text>
<line x1="48.30" y1="633.30" x2="50.90" y2="633.30" stroke="#222" stroke-width="0.9" />
<text x="43.90" y="635.60" font-size="6.6" text-anchor="end" fill="#222" font-weight="normal" font-style="normal" >1.0</text>
<line x1="48.30" y1="613.90" x2="50.90" y2="613.90" stroke="#222" stroke-width="0.9" />
<text x="43.90" y="616.20" font-size="6.6" text-anchor="end" fill="#222" font-weight="normal" font-style="normal" >1.1</text>
<line x1="67.50" y1="710.90" x2="67.50" y2="713.50" stroke="#222" stroke-width="0.9" />
<text x="67.50" y="723.20" font-size="6.5" text-anchor="middle" fill="#222" font-weight="normal" font-style="normal" >Baseline</text>
<line x1="107.30" y1="710.90" x2="107.30" y2="713.50" stroke="#222" stroke-width="0.9" />
<text x="107.30" y="723.20" font-size="6.5" text-anchor="middle" fill="#222" font-weight="normal" font-style="normal" >D1</text>
<line x1="146.80" y1="710.90" x2="146.80" y2="713.50" stroke="#222" stroke-width="0.9" />
<text x="146.80" y="723.20" font-size="6.5" text-anchor="middle" fill="#222" font-weight="normal" font-style="normal" >D3</text>
<line x1="186.20" y1="710.90" x2="186.20" y2="713.50" stroke="#222" stroke-width="0.9" />
<text x="186.20" y="723.20" font-size="6.5" text-anchor="middle" fill="#222" font-weight="normal" font-style="normal" >D7</text>
<text transform="translate(29.3,659.5) rotate(-90) scale(0.93,1)" font-size="7" stroke="#222" stroke-width="0.2" text-anchor="middle" fill="#222">Strength (left/right paw)</text>
<rect x="54.20" y="627.48" width="5.00" height="83.42" fill="#a6d49a" />
<rect x="61.90" y="630.00" width="5.00" height="80.90" fill="#9c80bd" />
<rect x="69.50" y="631.75" width="5.00" height="79.15" fill="#e87a70" />
<rect x="77.50" y="631.75" width="5.00" height="79.15" fill="#7c92c6" />
<rect x="93.30" y="664.73" width="5.00" height="46.17" fill="#a6d49a" />
<rect x="101.20" y="662.01" width="5.00" height="48.89" fill="#9c80bd" />
<rect x="109.00" y="650.76" width="5.00" height="60.14" fill="#e87a70" />
<rect x="116.90" y="661.82" width="5.00" height="49.08" fill="#7c92c6" />
<rect x="132.50" y="659.49" width="5.00" height="51.41" fill="#a6d49a" />
<rect x="140.60" y="651.73" width="5.00" height="59.17" fill="#9c80bd" />
<rect x="148.60" y="643.39" width="5.00" height="67.51" fill="#e87a70" />
<rect x="156.10" y="647.27" width="5.00" height="63.63" fill="#7c92c6" />
<rect x="172.30" y="655.03" width="5.00" height="55.87" fill="#a6d49a" />
<rect x="180.00" y="651.73" width="5.00" height="59.17" fill="#9c80bd" />
<rect x="188.10" y="640.67" width="5.00" height="70.23" fill="#e87a70" />
<rect x="195.80" y="644.55" width="5.00" height="66.35" fill="#7c92c6" />
<circle cx="57.24" cy="628.97" r="0.75" fill="#45a845" opacity="0.9"/>
<circle cx="55.16" cy="624.50" r="0.75" fill="#45a845" opacity="0.9"/>
<circle cx="55.11" cy="632.89" r="0.75" fill="#45a845" opacity="0.9"/>
<circle cx="56.73" cy="628.72" r="0.75" fill="#45a845" opacity="0.9"/>
<circle cx="55.15" cy="621.45" r="0.75" fill="#45a845" opacity="0.9"/>
<circle cx="55.23" cy="626.03" r="0.75" fill="#45a845" opacity="0.9"/>
<circle cx="55.35" cy="637.18" r="0.75" fill="#45a845" opacity="0.9"/>
<circle cx="55.70" cy="622.50" r="0.75" fill="#45a845" opacity="0.9"/>
<circle cx="56.98" cy="637.32" r="0.75" fill="#45a845" opacity="0.9"/>
<circle cx="56.33" cy="637.63" r="0.75" fill="#45a845" opacity="0.9"/>
<circle cx="57.99" cy="625.70" r="0.75" fill="#45a845" opacity="0.9"/>
<circle cx="55.94" cy="627.75" r="0.75" fill="#45a845" opacity="0.9"/>
<circle cx="56.01" cy="625.68" r="0.75" fill="#45a845" opacity="0.9"/>
<line x1="56.70" y1="625.15" x2="56.70" y2="629.81" stroke="#45a845" stroke-width="0.8" />
<line x1="54.50" y1="625.15" x2="58.90" y2="625.15" stroke="#45a845" stroke-width="0.8" />
<line x1="54.50" y1="629.81" x2="58.90" y2="629.81" stroke="#45a845" stroke-width="0.8" />
<line x1="53.90" y1="627.48" x2="59.50" y2="627.48" stroke="#45a845" stroke-width="0.9" />
<circle cx="65.54" cy="627.33" r="0.75" fill="#5a2a78" opacity="0.9"/>
<circle cx="64.90" cy="626.22" r="0.75" fill="#5a2a78" opacity="0.9"/>
<circle cx="63.94" cy="621.87" r="0.75" fill="#5a2a78" opacity="0.9"/>
<circle cx="62.81" cy="632.34" r="0.75" fill="#5a2a78" opacity="0.9"/>
<circle cx="63.34" cy="630.72" r="0.75" fill="#5a2a78" opacity="0.9"/>
<circle cx="63.73" cy="633.04" r="0.75" fill="#5a2a78" opacity="0.9"/>
<circle cx="64.71" cy="636.50" r="0.75" fill="#5a2a78" opacity="0.9"/>
<circle cx="65.46" cy="635.49" r="0.75" fill="#5a2a78" opacity="0.9"/>
<circle cx="65.12" cy="628.34" r="0.75" fill="#5a2a78" opacity="0.9"/>
<circle cx="64.49" cy="629.67" r="0.75" fill="#5a2a78" opacity="0.9"/>
<circle cx="65.75" cy="621.13" r="0.75" fill="#5a2a78" opacity="0.9"/>
<circle cx="66.13" cy="630.72" r="0.75" fill="#5a2a78" opacity="0.9"/>
<circle cx="63.03" cy="635.55" r="0.75" fill="#5a2a78" opacity="0.9"/>
<line x1="64.40" y1="628.06" x2="64.40" y2="631.94" stroke="#5a2a78" stroke-width="0.8" />
<line x1="62.20" y1="628.06" x2="66.60" y2="628.06" stroke="#5a2a78" stroke-width="0.8" />
<line x1="62.20" y1="631.94" x2="66.60" y2="631.94" stroke="#5a2a78" stroke-width="0.8" />
<line x1="61.60" y1="630.00" x2="67.20" y2="630.00" stroke="#5a2a78" stroke-width="0.9" />
<circle cx="70.75" cy="637.43" r="0.75" fill="#c8102e" opacity="0.9"/>
<circle cx="71.96" cy="628.54" r="0.75" fill="#c8102e" opacity="0.9"/>
<circle cx="72.95" cy="626.16" r="0.75" fill="#c8102e" opacity="0.9"/>
<circle cx="72.26" cy="630.34" r="0.75" fill="#c8102e" opacity="0.9"/>
<circle cx="72.70" cy="629.36" r="0.75" fill="#c8102e" opacity="0.9"/>
<circle cx="72.34" cy="634.12" r="0.75" fill="#c8102e" opacity="0.9"/>
<circle cx="73.22" cy="635.50" r="0.75" fill="#c8102e" opacity="0.9"/>
<circle cx="73.60" cy="633.81" r="0.75" fill="#c8102e" opacity="0.9"/>
<circle cx="70.42" cy="637.40" r="0.75" fill="#c8102e" opacity="0.9"/>
<circle cx="72.73" cy="630.82" r="0.75" fill="#c8102e" opacity="0.9"/>
<circle cx="73.16" cy="639.12" r="0.75" fill="#c8102e" opacity="0.9"/>
<circle cx="71.22" cy="641.52" r="0.75" fill="#c8102e" opacity="0.9"/>
<circle cx="70.28" cy="636.09" r="0.75" fill="#c8102e" opacity="0.9"/>
<line x1="72.00" y1="630.20" x2="72.00" y2="633.30" stroke="#c8102e" stroke-width="0.8" />
<line x1="69.80" y1="630.20" x2="74.20" y2="630.20" stroke="#c8102e" stroke-width="0.8" />
<line x1="69.80" y1="633.30" x2="74.20" y2="633.30" stroke="#c8102e" stroke-width="0.8" />
<line x1="69.20" y1="631.75" x2="74.80" y2="631.75" stroke="#c8102e" stroke-width="0.9" />
<circle cx="79.86" cy="625.11" r="0.75" fill="#1f4e8c" opacity="0.9"/>
<circle cx="78.41" cy="630.08" r="0.75" fill="#1f4e8c" opacity="0.9"/>
<circle cx="80.97" cy="628.80" r="0.75" fill="#1f4e8c" opacity="0.9"/>
<circle cx="79.61" cy="628.23" r="0.75" fill="#1f4e8c" opacity="0.9"/>
<circle cx="81.34" cy="628.03" r="0.75" fill="#1f4e8c" opacity="0.9"/>
<circle cx="80.18" cy="625.26" r="0.75" fill="#1f4e8c" opacity="0.9"/>
<circle cx="81.38" cy="628.15" r="0.75" fill="#1f4e8c" opacity="0.9"/>
<circle cx="79.20" cy="626.03" r="0.75" fill="#1f4e8c" opacity="0.9"/>
<circle cx="79.70" cy="644.05" r="0.75" fill="#1f4e8c" opacity="0.9"/>
<circle cx="81.65" cy="640.65" r="0.75" fill="#1f4e8c" opacity="0.9"/>
<circle cx="78.74" cy="620.82" r="0.75" fill="#1f4e8c" opacity="0.9"/>
<circle cx="79.04" cy="629.54" r="0.75" fill="#1f4e8c" opacity="0.9"/>
<circle cx="79.95" cy="627.34" r="0.75" fill="#1f4e8c" opacity="0.9"/>
<line x1="80.00" y1="629.81" x2="80.00" y2="633.69" stroke="#1f4e8c" stroke-width="0.8" />
<line x1="77.80" y1="629.81" x2="82.20" y2="629.81" stroke="#1f4e8c" stroke-width="0.8" />
<line x1="77.80" y1="633.69" x2="82.20" y2="633.69" stroke="#1f4e8c" stroke-width="0.8" />
<line x1="77.20" y1="631.75" x2="82.80" y2="631.75" stroke="#1f4e8c" stroke-width="0.9" />
<circle cx="94.01" cy="672.43" r="0.75" fill="#45a845" opacity="0.9"/>
<circle cx="95.51" cy="669.56" r="0.75" fill="#45a845" opacity="0.9"/>
<circle cx="97.43" cy="674.98" r="0.75" fill="#45a845" opacity="0.9"/>
<circle cx="96.49" cy="653.71" r="0.75" fill="#45a845" opacity="0.9"/>
<circle cx="96.43" cy="680.79" r="0.75" fill="#45a845" opacity="0.9"/>
<circle cx="94.19" cy="666.30" r="0.75" fill="#45a845" opacity="0.9"/>
<circle cx="97.15" cy="648.38" r="0.75" fill="#45a845" opacity="0.9"/>
<circle cx="96.87" cy="676.68" r="0.75" fill="#45a845" opacity="0.9"/>
<circle cx="94.37" cy="673.89" r="0.75" fill="#45a845" opacity="0.9"/>
<circle cx="96.28" cy="657.38" r="0.75" fill="#45a845" opacity="0.9"/>
<circle cx="94.75" cy="660.71" r="0.75" fill="#45a845" opacity="0.9"/>
<circle cx="94.58" cy="663.07" r="0.75" fill="#45a845" opacity="0.9"/>
<circle cx="94.00" cy="666.78" r="0.75" fill="#45a845" opacity="0.9"/>
<line x1="95.80" y1="660.85" x2="95.80" y2="668.61" stroke="#45a845" stroke-width="0.8" />
<line x1="93.60" y1="660.85" x2="98.00" y2="660.85" stroke="#45a845" stroke-width="0.8" />
<line x1="93.60" y1="668.61" x2="98.00" y2="668.61" stroke="#45a845" stroke-width="0.8" />
<line x1="93.00" y1="664.73" x2="98.60" y2="664.73" stroke="#45a845" stroke-width="0.9" />
<circle cx="102.44" cy="658.78" r="0.75" fill="#5a2a78" opacity="0.9"/>
<circle cx="101.99" cy="653.12" r="0.75" fill="#5a2a78" opacity="0.9"/>
<circle cx="105.05" cy="655.43" r="0.75" fill="#5a2a78" opacity="0.9"/>
<circle cx="102.81" cy="666.99" r="0.75" fill="#5a2a78" opacity="0.9"/>
<circle cx="103.15" cy="666.35" r="0.75" fill="#5a2a78" opacity="0.9"/>
<circle cx="104.96" cy="665.93" r="0.75" fill="#5a2a78" opacity="0.9"/>
<circle cx="105.48" cy="657.52" r="0.75" fill="#5a2a78" opacity="0.9"/>
<circle cx="102.21" cy="675.09" r="0.75" fill="#5a2a78" opacity="0.9"/>
<circle cx="102.27" cy="659.17" r="0.75" fill="#5a2a78" opacity="0.9"/>
<circle cx="104.88" cy="667.03" r="0.75" fill="#5a2a78" opacity="0.9"/>
<circle cx="102.48" cy="654.39" r="0.75" fill="#5a2a78" opacity="0.9"/>
<circle cx="103.80" cy="633.73" r="0.75" fill="#5a2a78" opacity="0.9"/>
<circle cx="102.43" cy="657.88" r="0.75" fill="#5a2a78" opacity="0.9"/>
<line x1="103.70" y1="658.13" x2="103.70" y2="665.89" stroke="#5a2a78" stroke-width="0.8" />
<line x1="101.50" y1="658.13" x2="105.90" y2="658.13" stroke="#5a2a78" stroke-width="0.8" />
<line x1="101.50" y1="665.89" x2="105.90" y2="665.89" stroke="#5a2a78" stroke-width="0.8" />
<line x1="100.90" y1="662.01" x2="106.50" y2="662.01" stroke="#5a2a78" stroke-width="0.9" />
<circle cx="111.60" cy="652.51" r="0.75" fill="#c8102e" opacity="0.9"/>
<circle cx="113.22" cy="651.25" r="0.75" fill="#c8102e" opacity="0.9"/>
<circle cx="110.64" cy="642.93" r="0.75" fill="#c8102e" opacity="0.9"/>
<circle cx="111.02" cy="659.83" r="0.75" fill="#c8102e" opacity="0.9"/>
<circle cx="111.62" cy="644.12" r="0.75" fill="#c8102e" opacity="0.9"/>
<circle cx="112.50" cy="639.19" r="0.75" fill="#c8102e" opacity="0.9"/>
<circle cx="112.62" cy="653.41" r="0.75" fill="#c8102e" opacity="0.9"/>
<circle cx="113.25" cy="645.92" r="0.75" fill="#c8102e" opacity="0.9"/>
<circle cx="112.65" cy="642.31" r="0.75" fill="#c8102e" opacity="0.9"/>
<circle cx="112.36" cy="661.99" r="0.75" fill="#c8102e" opacity="0.9"/>
<circle cx="110.98" cy="649.40" r="0.75" fill="#c8102e" opacity="0.9"/>
<circle cx="109.80" cy="641.49" r="0.75" fill="#c8102e" opacity="0.9"/>
<circle cx="110.63" cy="644.57" r="0.75" fill="#c8102e" opacity="0.9"/>
<line x1="111.50" y1="647.85" x2="111.50" y2="653.67" stroke="#c8102e" stroke-width="0.8" />
<line x1="109.30" y1="647.85" x2="113.70" y2="647.85" stroke="#c8102e" stroke-width="0.8" />
<line x1="109.30" y1="653.67" x2="113.70" y2="653.67" stroke="#c8102e" stroke-width="0.8" />
<line x1="108.70" y1="650.76" x2="114.30" y2="650.76" stroke="#c8102e" stroke-width="0.9" />
<circle cx="120.09" cy="660.86" r="0.75" fill="#1f4e8c" opacity="0.9"/>
<circle cx="120.97" cy="654.70" r="0.75" fill="#1f4e8c" opacity="0.9"/>
<circle cx="121.16" cy="663.81" r="0.75" fill="#1f4e8c" opacity="0.9"/>
<circle cx="118.39" cy="655.61" r="0.75" fill="#1f4e8c" opacity="0.9"/>
<circle cx="118.42" cy="663.62" r="0.75" fill="#1f4e8c" opacity="0.9"/>
<circle cx="119.85" cy="660.31" r="0.75" fill="#1f4e8c" opacity="0.9"/>
<circle cx="120.84" cy="657.48" r="0.75" fill="#1f4e8c" opacity="0.9"/>
<circle cx="119.95" cy="657.64" r="0.75" fill="#1f4e8c" opacity="0.9"/>
<circle cx="120.48" cy="668.36" r="0.75" fill="#1f4e8c" opacity="0.9"/>
<circle cx="120.88" cy="653.22" r="0.75" fill="#1f4e8c" opacity="0.9"/>
<circle cx="120.42" cy="656.75" r="0.75" fill="#1f4e8c" opacity="0.9"/>
<circle cx="118.24" cy="661.81" r="0.75" fill="#1f4e8c" opacity="0.9"/>
<circle cx="120.44" cy="669.56" r="0.75" fill="#1f4e8c" opacity="0.9"/>
<line x1="119.40" y1="659.49" x2="119.40" y2="664.15" stroke="#1f4e8c" stroke-width="0.8" />
<line x1="117.20" y1="659.49" x2="121.60" y2="659.49" stroke="#1f4e8c" stroke-width="0.8" />
<line x1="117.20" y1="664.15" x2="121.60" y2="664.15" stroke="#1f4e8c" stroke-width="0.8" />
<line x1="116.60" y1="661.82" x2="122.20" y2="661.82" stroke="#1f4e8c" stroke-width="0.9" />
<circle cx="136.70" cy="671.58" r="0.75" fill="#45a845" opacity="0.9"/>
<circle cx="134.63" cy="638.30" r="0.75" fill="#45a845" opacity="0.9"/>
<circle cx="135.81" cy="686.27" r="0.75" fill="#45a845" opacity="0.9"/>
<circle cx="133.81" cy="640.39" r="0.75" fill="#45a845" opacity="0.9"/>
<circle cx="136.46" cy="654.06" r="0.75" fill="#45a845" opacity="0.9"/>
<circle cx="136.10" cy="653.92" r="0.75" fill="#45a845" opacity="0.9"/>
<circle cx="136.73" cy="644.06" r="0.75" fill="#45a845" opacity="0.9"/>
<circle cx="135.57" cy="639.29" r="0.75" fill="#45a845" opacity="0.9"/>
<circle cx="133.67" cy="669.59" r="0.75" fill="#45a845" opacity="0.9"/>
<circle cx="133.25" cy="645.66" r="0.75" fill="#45a845" opacity="0.9"/>
<circle cx="135.10" cy="640.15" r="0.75" fill="#45a845" opacity="0.9"/>
<circle cx="136.56" cy="663.07" r="0.75" fill="#45a845" opacity="0.9"/>
<circle cx="136.17" cy="684.67" r="0.75" fill="#45a845" opacity="0.9"/>
<line x1="135.00" y1="655.61" x2="135.00" y2="663.37" stroke="#45a845" stroke-width="0.8" />
<line x1="132.80" y1="655.61" x2="137.20" y2="655.61" stroke="#45a845" stroke-width="0.8" />
<line x1="132.80" y1="663.37" x2="137.20" y2="663.37" stroke="#45a845" stroke-width="0.8" />
<line x1="132.20" y1="659.49" x2="137.80" y2="659.49" stroke="#45a845" stroke-width="0.9" />
<circle cx="142.06" cy="643.79" r="0.75" fill="#5a2a78" opacity="0.9"/>
<circle cx="142.17" cy="651.82" r="0.75" fill="#5a2a78" opacity="0.9"/>
<circle cx="143.41" cy="643.65" r="0.75" fill="#5a2a78" opacity="0.9"/>
<circle cx="141.77" cy="652.32" r="0.75" fill="#5a2a78" opacity="0.9"/>
<circle cx="144.58" cy="641.64" r="0.75" fill="#5a2a78" opacity="0.9"/>
<circle cx="143.40" cy="658.25" r="0.75" fill="#5a2a78" opacity="0.9"/>
<circle cx="144.56" cy="643.19" r="0.75" fill="#5a2a78" opacity="0.9"/>
<circle cx="143.11" cy="670.77" r="0.75" fill="#5a2a78" opacity="0.9"/>
<circle cx="143.21" cy="641.36" r="0.75" fill="#5a2a78" opacity="0.9"/>
<circle cx="142.88" cy="653.59" r="0.75" fill="#5a2a78" opacity="0.9"/>
<circle cx="141.96" cy="652.01" r="0.75" fill="#5a2a78" opacity="0.9"/>
<circle cx="141.92" cy="634.35" r="0.75" fill="#5a2a78" opacity="0.9"/>
<circle cx="143.00" cy="651.30" r="0.75" fill="#5a2a78" opacity="0.9"/>
<line x1="143.10" y1="648.82" x2="143.10" y2="654.64" stroke="#5a2a78" stroke-width="0.8" />
<line x1="140.90" y1="648.82" x2="145.30" y2="648.82" stroke="#5a2a78" stroke-width="0.8" />
<line x1="140.90" y1="654.64" x2="145.30" y2="654.64" stroke="#5a2a78" stroke-width="0.8" />
<line x1="140.30" y1="651.73" x2="145.90" y2="651.73" stroke="#5a2a78" stroke-width="0.9" />
<circle cx="150.47" cy="644.92" r="0.75" fill="#c8102e" opacity="0.9"/>
<circle cx="151.17" cy="653.16" r="0.75" fill="#c8102e" opacity="0.9"/>
<circle cx="149.68" cy="656.16" r="0.75" fill="#c8102e" opacity="0.9"/>
<circle cx="151.32" cy="648.03" r="0.75" fill="#c8102e" opacity="0.9"/>
<circle cx="152.08" cy="643.33" r="0.75" fill="#c8102e" opacity="0.9"/>
<circle cx="151.13" cy="637.14" r="0.75" fill="#c8102e" opacity="0.9"/>
<circle cx="152.58" cy="655.52" r="0.75" fill="#c8102e" opacity="0.9"/>
<circle cx="150.90" cy="648.35" r="0.75" fill="#c8102e" opacity="0.9"/>
<circle cx="151.14" cy="650.39" r="0.75" fill="#c8102e" opacity="0.9"/>
<circle cx="151.79" cy="649.37" r="0.75" fill="#c8102e" opacity="0.9"/>
<circle cx="151.02" cy="652.54" r="0.75" fill="#c8102e" opacity="0.9"/>
<circle cx="152.69" cy="640.56" r="0.75" fill="#c8102e" opacity="0.9"/>
<circle cx="152.69" cy="648.37" r="0.75" fill="#c8102e" opacity="0.9"/>
<line x1="151.10" y1="641.06" x2="151.10" y2="645.72" stroke="#c8102e" stroke-width="0.8" />
<line x1="148.90" y1="641.06" x2="153.30" y2="641.06" stroke="#c8102e" stroke-width="0.8" />
<line x1="148.90" y1="645.72" x2="153.30" y2="645.72" stroke="#c8102e" stroke-width="0.8" />
<line x1="148.30" y1="643.39" x2="153.90" y2="643.39" stroke="#c8102e" stroke-width="0.9" />
<circle cx="157.73" cy="662.34" r="0.75" fill="#1f4e8c" opacity="0.9"/>
<circle cx="159.82" cy="664.57" r="0.75" fill="#1f4e8c" opacity="0.9"/>
<circle cx="157.29" cy="654.06" r="0.75" fill="#1f4e8c" opacity="0.9"/>
<circle cx="157.06" cy="641.22" r="0.75" fill="#1f4e8c" opacity="0.9"/>
<circle cx="157.67" cy="641.47" r="0.75" fill="#1f4e8c" opacity="0.9"/>
<circle cx="159.62" cy="636.92" r="0.75" fill="#1f4e8c" opacity="0.9"/>
<circle cx="160.03" cy="642.15" r="0.75" fill="#1f4e8c" opacity="0.9"/>
<circle cx="159.18" cy="640.31" r="0.75" fill="#1f4e8c" opacity="0.9"/>
<circle cx="157.31" cy="637.11" r="0.75" fill="#1f4e8c" opacity="0.9"/>
<circle cx="157.59" cy="632.21" r="0.75" fill="#1f4e8c" opacity="0.9"/>
<circle cx="160.23" cy="660.91" r="0.75" fill="#1f4e8c" opacity="0.9"/>
<circle cx="160.36" cy="654.47" r="0.75" fill="#1f4e8c" opacity="0.9"/>
<circle cx="159.80" cy="641.92" r="0.75" fill="#1f4e8c" opacity="0.9"/>
<line x1="158.60" y1="645.33" x2="158.60" y2="649.21" stroke="#1f4e8c" stroke-width="0.8" />
<line x1="156.40" y1="645.33" x2="160.80" y2="645.33" stroke="#1f4e8c" stroke-width="0.8" />
<line x1="156.40" y1="649.21" x2="160.80" y2="649.21" stroke="#1f4e8c" stroke-width="0.8" />
<line x1="155.80" y1="647.27" x2="161.40" y2="647.27" stroke="#1f4e8c" stroke-width="0.9" />
<circle cx="174.86" cy="648.50" r="0.75" fill="#45a845" opacity="0.9"/>
<circle cx="174.22" cy="644.52" r="0.75" fill="#45a845" opacity="0.9"/>
<circle cx="175.60" cy="651.62" r="0.75" fill="#45a845" opacity="0.9"/>
<circle cx="173.07" cy="645.42" r="0.75" fill="#45a845" opacity="0.9"/>
<circle cx="173.07" cy="666.86" r="0.75" fill="#45a845" opacity="0.9"/>
<circle cx="174.19" cy="659.21" r="0.75" fill="#45a845" opacity="0.9"/>
<circle cx="173.23" cy="664.96" r="0.75" fill="#45a845" opacity="0.9"/>
<circle cx="176.55" cy="664.82" r="0.75" fill="#45a845" opacity="0.9"/>
<circle cx="173.38" cy="647.61" r="0.75" fill="#45a845" opacity="0.9"/>
<circle cx="173.96" cy="685.21" r="0.75" fill="#45a845" opacity="0.9"/>
<circle cx="173.97" cy="635.43" r="0.75" fill="#45a845" opacity="0.9"/>
<circle cx="173.47" cy="650.05" r="0.75" fill="#45a845" opacity="0.9"/>
<circle cx="175.95" cy="677.66" r="0.75" fill="#45a845" opacity="0.9"/>
<line x1="174.80" y1="651.15" x2="174.80" y2="658.91" stroke="#45a845" stroke-width="0.8" />
<line x1="172.60" y1="651.15" x2="177.00" y2="651.15" stroke="#45a845" stroke-width="0.8" />
<line x1="172.60" y1="658.91" x2="177.00" y2="658.91" stroke="#45a845" stroke-width="0.8" />
<line x1="172.00" y1="655.03" x2="177.60" y2="655.03" stroke="#45a845" stroke-width="0.9" />
<circle cx="181.63" cy="641.71" r="0.75" fill="#5a2a78" opacity="0.9"/>
<circle cx="182.75" cy="638.87" r="0.75" fill="#5a2a78" opacity="0.9"/>
<circle cx="183.22" cy="634.18" r="0.75" fill="#5a2a78" opacity="0.9"/>
<circle cx="183.18" cy="648.90" r="0.75" fill="#5a2a78" opacity="0.9"/>
<circle cx="182.23" cy="649.95" r="0.75" fill="#5a2a78" opacity="0.9"/>
<circle cx="182.98" cy="631.16" r="0.75" fill="#5a2a78" opacity="0.9"/>
<circle cx="183.59" cy="641.67" r="0.75" fill="#5a2a78" opacity="0.9"/>
<circle cx="180.94" cy="635.21" r="0.75" fill="#5a2a78" opacity="0.9"/>
<circle cx="183.81" cy="642.14" r="0.75" fill="#5a2a78" opacity="0.9"/>
<circle cx="182.69" cy="660.19" r="0.75" fill="#5a2a78" opacity="0.9"/>
<circle cx="184.04" cy="649.20" r="0.75" fill="#5a2a78" opacity="0.9"/>
<circle cx="182.60" cy="652.30" r="0.75" fill="#5a2a78" opacity="0.9"/>
<circle cx="181.56" cy="646.66" r="0.75" fill="#5a2a78" opacity="0.9"/>
<line x1="182.50" y1="648.82" x2="182.50" y2="654.64" stroke="#5a2a78" stroke-width="0.8" />
<line x1="180.30" y1="648.82" x2="184.70" y2="648.82" stroke="#5a2a78" stroke-width="0.8" />
<line x1="180.30" y1="654.64" x2="184.70" y2="654.64" stroke="#5a2a78" stroke-width="0.8" />
<line x1="179.70" y1="651.73" x2="185.30" y2="651.73" stroke="#5a2a78" stroke-width="0.9" />
<circle cx="188.98" cy="637.11" r="0.75" fill="#c8102e" opacity="0.9"/>
<circle cx="189.53" cy="637.75" r="0.75" fill="#c8102e" opacity="0.9"/>
<circle cx="191.53" cy="643.19" r="0.75" fill="#c8102e" opacity="0.9"/>
<circle cx="189.84" cy="634.55" r="0.75" fill="#c8102e" opacity="0.9"/>
<circle cx="190.05" cy="645.53" r="0.75" fill="#c8102e" opacity="0.9"/>
<circle cx="188.87" cy="640.67" r="0.75" fill="#c8102e" opacity="0.9"/>
<circle cx="191.44" cy="640.68" r="0.75" fill="#c8102e" opacity="0.9"/>
<circle cx="190.78" cy="639.31" r="0.75" fill="#c8102e" opacity="0.9"/>
<circle cx="192.16" cy="637.40" r="0.75" fill="#c8102e" opacity="0.9"/>
<circle cx="189.18" cy="632.50" r="0.75" fill="#c8102e" opacity="0.9"/>
<circle cx="190.58" cy="637.21" r="0.75" fill="#c8102e" opacity="0.9"/>
<circle cx="191.80" cy="648.17" r="0.75" fill="#c8102e" opacity="0.9"/>
<circle cx="191.28" cy="647.89" r="0.75" fill="#c8102e" opacity="0.9"/>
<line x1="190.60" y1="638.34" x2="190.60" y2="643.00" stroke="#c8102e" stroke-width="0.8" />
<line x1="188.40" y1="638.34" x2="192.80" y2="638.34" stroke="#c8102e" stroke-width="0.8" />
<line x1="188.40" y1="643.00" x2="192.80" y2="643.00" stroke="#c8102e" stroke-width="0.8" />
<line x1="187.80" y1="640.67" x2="193.40" y2="640.67" stroke="#c8102e" stroke-width="0.9" />
<circle cx="200.04" cy="639.53" r="0.75" fill="#1f4e8c" opacity="0.9"/>
<circle cx="199.04" cy="651.61" r="0.75" fill="#1f4e8c" opacity="0.9"/>
<circle cx="198.79" cy="633.84" r="0.75" fill="#1f4e8c" opacity="0.9"/>
<circle cx="196.70" cy="649.74" r="0.75" fill="#1f4e8c" opacity="0.9"/>
<circle cx="196.97" cy="641.02" r="0.75" fill="#1f4e8c" opacity="0.9"/>
<circle cx="197.42" cy="634.48" r="0.75" fill="#1f4e8c" opacity="0.9"/>
<circle cx="197.09" cy="639.75" r="0.75" fill="#1f4e8c" opacity="0.9"/>
<circle cx="199.63" cy="633.32" r="0.75" fill="#1f4e8c" opacity="0.9"/>
<circle cx="198.91" cy="637.96" r="0.75" fill="#1f4e8c" opacity="0.9"/>
<circle cx="197.56" cy="645.56" r="0.75" fill="#1f4e8c" opacity="0.9"/>
<circle cx="198.15" cy="639.60" r="0.75" fill="#1f4e8c" opacity="0.9"/>
<circle cx="197.45" cy="640.50" r="0.75" fill="#1f4e8c" opacity="0.9"/>
<circle cx="199.96" cy="638.38" r="0.75" fill="#1f4e8c" opacity="0.9"/>
<line x1="198.30" y1="642.61" x2="198.30" y2="646.49" stroke="#1f4e8c" stroke-width="0.8" />
<line x1="196.10" y1="642.61" x2="200.50" y2="642.61" stroke="#1f4e8c" stroke-width="0.8" />
<line x1="196.10" y1="646.49" x2="200.50" y2="646.49" stroke="#1f4e8c" stroke-width="0.8" />
<line x1="195.50" y1="644.55" x2="201.10" y2="644.55" stroke="#1f4e8c" stroke-width="0.9" />
<text x="95.70" y="612.80" font-size="8.2" text-anchor="middle" fill="#333" font-weight="normal" font-style="normal" >$</text>
<text x="103.50" y="612.80" font-size="8.2" text-anchor="middle" fill="#333" font-weight="normal" font-style="normal" >$</text>
<text x="111.80" y="612.80" font-size="8.2" text-anchor="middle" fill="#333" font-weight="normal" font-style="normal" >$</text>
<text x="119.60" y="612.80" font-size="8.2" text-anchor="middle" fill="#333" font-weight="normal" font-style="normal" >$</text>
<text x="135.30" y="612.80" font-size="8.2" text-anchor="middle" fill="#333" font-weight="normal" font-style="normal" >$</text>
<text x="143.20" y="612.80" font-size="8.2" text-anchor="middle" fill="#333" font-weight="normal" font-style="normal" >$</text>
<text x="151.10" y="612.80" font-size="8.2" text-anchor="middle" fill="#333" font-weight="normal" font-style="normal" >$</text>
<text x="159.30" y="612.80" font-size="8.2" text-anchor="middle" fill="#333" font-weight="normal" font-style="normal" >$</text>
<text x="174.90" y="612.80" font-size="8.2" text-anchor="middle" fill="#333" font-weight="normal" font-style="normal" >$</text>
<text x="182.90" y="612.80" font-size="8.2" text-anchor="middle" fill="#333" font-weight="normal" font-style="normal" >$</text>
<text x="190.80" y="612.80" font-size="8.2" text-anchor="middle" fill="#333" font-weight="normal" font-style="normal" >$</text>
<text x="198.50" y="612.80" font-size="8.2" text-anchor="middle" fill="#333" font-weight="normal" font-style="normal" >$</text>
<text x="198.40" y="603.20" font-size="7" text-anchor="middle" fill="#333" font-weight="bold" font-style="normal" >#</text>
<path d="M94.1,602.8 L94.1,594.4 L111.0,594.4 L111.0,602.8" fill="none" stroke="#333" stroke-width="0.9" />
<text x="102.50" y="594.20" font-size="6.5" text-anchor="middle" fill="#333" font-weight="normal" font-style="normal" >**</text>
<path d="M133.8,583.6 L133.8,570.3 L158.8,570.3 L158.8,602.8" fill="none" stroke="#333" stroke-width="0.9" />
<text x="146.30" y="570.00" font-size="6.5" text-anchor="middle" fill="#333" font-weight="normal" font-style="normal" >*</text>
<path d="M133.8,602.8 L133.8,593.2 L151.1,593.2 L151.1,602.8" fill="none" stroke="#333" stroke-width="0.9" />
<text x="142.50" y="593.00" font-size="6.5" text-anchor="middle" fill="#333" font-weight="normal" font-style="normal" >*</text>
<text x="220.00" y="576.00" font-size="12.2" text-anchor="start" fill="#111" font-weight="bold" font-style="normal" stroke="#111" stroke-width="0.3">G</text>
<line x1="263.90" y1="610.50" x2="263.90" y2="711.40" stroke="#1a1a1a" stroke-width="1.25" />
<line x1="263.40" y1="710.90" x2="416.40" y2="710.90" stroke="#1a1a1a" stroke-width="1.25" />
<line x1="261.30" y1="710.90" x2="263.90" y2="710.90" stroke="#222" stroke-width="0.9" />
<text x="256.90" y="713.20" font-size="6.6" text-anchor="end" fill="#222" font-weight="normal" font-style="normal" >0</text>
<line x1="261.30" y1="678.37" x2="263.90" y2="678.37" stroke="#222" stroke-width="0.9" />
<text x="256.90" y="680.66" font-size="6.6" text-anchor="end" fill="#222" font-weight="normal" font-style="normal" >50</text>
<line x1="261.30" y1="645.83" x2="263.90" y2="645.83" stroke="#222" stroke-width="0.9" />
<text x="256.90" y="648.13" font-size="6.6" text-anchor="end" fill="#222" font-weight="normal" font-style="normal" >100</text>
<line x1="261.30" y1="613.29" x2="263.90" y2="613.29" stroke="#222" stroke-width="0.9" />
<text x="256.90" y="615.59" font-size="6.6" text-anchor="end" fill="#222" font-weight="normal" font-style="normal" >150</text>
<line x1="280.30" y1="710.90" x2="280.30" y2="713.50" stroke="#222" stroke-width="0.9" />
<text x="280.30" y="723.20" font-size="6.5" text-anchor="middle" fill="#222" font-weight="normal" font-style="normal" >Baseline</text>
<line x1="319.80" y1="710.90" x2="319.80" y2="713.50" stroke="#222" stroke-width="0.9" />
<text x="319.80" y="723.20" font-size="6.5" text-anchor="middle" fill="#222" font-weight="normal" font-style="normal" >D1</text>
<line x1="359.20" y1="710.90" x2="359.20" y2="713.50" stroke="#222" stroke-width="0.9" />
<text x="359.20" y="723.20" font-size="6.5" text-anchor="middle" fill="#222" font-weight="normal" font-style="normal" >D3</text>
<line x1="398.50" y1="710.90" x2="398.50" y2="713.50" stroke="#222" stroke-width="0.9" />
<text x="398.50" y="723.20" font-size="6.5" text-anchor="middle" fill="#222" font-weight="normal" font-style="normal" >D7</text>
<text transform="translate(238.7,660.0) rotate(-90) scale(0.905,1)" font-size="7" stroke="#222" stroke-width="0.2" text-anchor="middle" fill="#222">Strength (% from baseline)</text>
<rect x="266.40" y="644.53" width="5.00" height="66.37" fill="#a6d49a" />
<rect x="274.20" y="645.83" width="5.00" height="65.07" fill="#9c80bd" />
<rect x="282.10" y="647.13" width="5.00" height="63.77" fill="#e87a70" />
<rect x="289.90" y="645.18" width="5.00" height="65.72" fill="#7c92c6" />
<rect x="306.30" y="657.54" width="5.00" height="53.36" fill="#a6d49a" />
<rect x="313.90" y="658.19" width="5.00" height="52.71" fill="#9c80bd" />
<rect x="321.60" y="653.64" width="5.00" height="57.26" fill="#e87a70" />
<rect x="329.30" y="654.94" width="5.00" height="55.96" fill="#7c92c6" />
<rect x="345.40" y="654.94" width="5.00" height="55.96" fill="#a6d49a" />
<rect x="353.00" y="651.69" width="5.00" height="59.21" fill="#9c80bd" />
<rect x="361.00" y="649.08" width="5.00" height="61.82" fill="#e87a70" />
<rect x="368.80" y="650.38" width="5.00" height="60.52" fill="#7c92c6" />
<rect x="384.90" y="654.94" width="5.00" height="55.96" fill="#a6d49a" />
<rect x="392.30" y="654.94" width="5.00" height="55.96" fill="#9c80bd" />
<rect x="400.30" y="647.13" width="5.00" height="63.77" fill="#e87a70" />
<rect x="408.00" y="649.73" width="5.00" height="61.17" fill="#7c92c6" />
<circle cx="267.98" cy="638.88" r="0.75" fill="#45a845" opacity="0.9"/>
<circle cx="270.58" cy="645.51" r="0.75" fill="#45a845" opacity="0.9"/>
<circle cx="267.10" cy="646.09" r="0.75" fill="#45a845" opacity="0.9"/>
<circle cx="268.47" cy="640.55" r="0.75" fill="#45a845" opacity="0.9"/>
<circle cx="267.82" cy="649.84" r="0.75" fill="#45a845" opacity="0.9"/>
<circle cx="268.92" cy="643.67" r="0.75" fill="#45a845" opacity="0.9"/>
<circle cx="267.42" cy="640.96" r="0.75" fill="#45a845" opacity="0.9"/>
<circle cx="268.54" cy="644.42" r="0.75" fill="#45a845" opacity="0.9"/>
<circle cx="268.20" cy="643.59" r="0.75" fill="#45a845" opacity="0.9"/>
<circle cx="267.94" cy="644.28" r="0.75" fill="#45a845" opacity="0.9"/>
<circle cx="269.80" cy="649.33" r="0.75" fill="#45a845" opacity="0.9"/>
<circle cx="269.47" cy="647.39" r="0.75" fill="#45a845" opacity="0.9"/>
<circle cx="268.50" cy="646.51" r="0.75" fill="#45a845" opacity="0.9"/>
<line x1="268.90" y1="642.58" x2="268.90" y2="646.48" stroke="#45a845" stroke-width="0.8" />
<line x1="266.70" y1="642.58" x2="271.10" y2="642.58" stroke="#45a845" stroke-width="0.8" />
<line x1="266.70" y1="646.48" x2="271.10" y2="646.48" stroke="#45a845" stroke-width="0.8" />
<line x1="266.10" y1="644.53" x2="271.70" y2="644.53" stroke="#45a845" stroke-width="0.9" />
<circle cx="276.07" cy="653.67" r="0.75" fill="#5a2a78" opacity="0.9"/>
<circle cx="277.51" cy="643.62" r="0.75" fill="#5a2a78" opacity="0.9"/>
<circle cx="277.22" cy="646.04" r="0.75" fill="#5a2a78" opacity="0.9"/>
<circle cx="278.11" cy="638.69" r="0.75" fill="#5a2a78" opacity="0.9"/>
<circle cx="277.16" cy="643.82" r="0.75" fill="#5a2a78" opacity="0.9"/>
<circle cx="275.40" cy="646.55" r="0.75" fill="#5a2a78" opacity="0.9"/>
<circle cx="276.79" cy="652.93" r="0.75" fill="#5a2a78" opacity="0.9"/>
<circle cx="277.80" cy="653.24" r="0.75" fill="#5a2a78" opacity="0.9"/>
<circle cx="277.88" cy="646.03" r="0.75" fill="#5a2a78" opacity="0.9"/>
<circle cx="277.36" cy="652.96" r="0.75" fill="#5a2a78" opacity="0.9"/>
<circle cx="277.40" cy="649.99" r="0.75" fill="#5a2a78" opacity="0.9"/>
<circle cx="275.38" cy="645.71" r="0.75" fill="#5a2a78" opacity="0.9"/>
<circle cx="276.20" cy="644.86" r="0.75" fill="#5a2a78" opacity="0.9"/>
<line x1="276.70" y1="643.88" x2="276.70" y2="647.78" stroke="#5a2a78" stroke-width="0.8" />
<line x1="274.50" y1="643.88" x2="278.90" y2="643.88" stroke="#5a2a78" stroke-width="0.8" />
<line x1="274.50" y1="647.78" x2="278.90" y2="647.78" stroke="#5a2a78" stroke-width="0.8" />
<line x1="273.90" y1="645.83" x2="279.50" y2="645.83" stroke="#5a2a78" stroke-width="0.9" />
<circle cx="284.81" cy="641.26" r="0.75" fill="#c8102e" opacity="0.9"/>
<circle cx="285.06" cy="642.59" r="0.75" fill="#c8102e" opacity="0.9"/>
<circle cx="284.56" cy="651.27" r="0.75" fill="#c8102e" opacity="0.9"/>
<circle cx="282.81" cy="651.33" r="0.75" fill="#c8102e" opacity="0.9"/>
<circle cx="284.61" cy="645.22" r="0.75" fill="#c8102e" opacity="0.9"/>
<circle cx="284.73" cy="653.33" r="0.75" fill="#c8102e" opacity="0.9"/>
<circle cx="285.45" cy="647.91" r="0.75" fill="#c8102e" opacity="0.9"/>
<circle cx="283.71" cy="648.35" r="0.75" fill="#c8102e" opacity="0.9"/>
<circle cx="285.43" cy="644.39" r="0.75" fill="#c8102e" opacity="0.9"/>
<circle cx="283.54" cy="645.75" r="0.75" fill="#c8102e" opacity="0.9"/>
<circle cx="284.58" cy="647.81" r="0.75" fill="#c8102e" opacity="0.9"/>
<circle cx="284.18" cy="657.76" r="0.75" fill="#c8102e" opacity="0.9"/>
<circle cx="285.56" cy="653.00" r="0.75" fill="#c8102e" opacity="0.9"/>
<line x1="284.60" y1="645.50" x2="284.60" y2="648.76" stroke="#c8102e" stroke-width="0.8" />
<line x1="282.40" y1="645.50" x2="286.80" y2="645.50" stroke="#c8102e" stroke-width="0.8" />
<line x1="282.40" y1="648.76" x2="286.80" y2="648.76" stroke="#c8102e" stroke-width="0.8" />
<line x1="281.80" y1="647.13" x2="287.40" y2="647.13" stroke="#c8102e" stroke-width="0.9" />
<circle cx="292.82" cy="644.53" r="0.75" fill="#1f4e8c" opacity="0.9"/>
<circle cx="291.13" cy="645.99" r="0.75" fill="#1f4e8c" opacity="0.9"/>
<circle cx="291.51" cy="646.20" r="0.75" fill="#1f4e8c" opacity="0.9"/>
<circle cx="292.64" cy="645.30" r="0.75" fill="#1f4e8c" opacity="0.9"/>
<circle cx="290.64" cy="647.95" r="0.75" fill="#1f4e8c" opacity="0.9"/>
<circle cx="293.02" cy="642.79" r="0.75" fill="#1f4e8c" opacity="0.9"/>
<circle cx="293.09" cy="644.22" r="0.75" fill="#1f4e8c" opacity="0.9"/>
<circle cx="292.46" cy="646.39" r="0.75" fill="#1f4e8c" opacity="0.9"/>
<circle cx="292.27" cy="647.59" r="0.75" fill="#1f4e8c" opacity="0.9"/>
<circle cx="293.82" cy="646.78" r="0.75" fill="#1f4e8c" opacity="0.9"/>
<circle cx="291.32" cy="644.84" r="0.75" fill="#1f4e8c" opacity="0.9"/>
<circle cx="290.66" cy="637.62" r="0.75" fill="#1f4e8c" opacity="0.9"/>
<circle cx="292.25" cy="646.23" r="0.75" fill="#1f4e8c" opacity="0.9"/>
<line x1="292.40" y1="643.55" x2="292.40" y2="646.81" stroke="#1f4e8c" stroke-width="0.8" />
<line x1="290.20" y1="643.55" x2="294.60" y2="643.55" stroke="#1f4e8c" stroke-width="0.8" />
<line x1="290.20" y1="646.81" x2="294.60" y2="646.81" stroke="#1f4e8c" stroke-width="0.8" />
<line x1="289.60" y1="645.18" x2="295.20" y2="645.18" stroke="#1f4e8c" stroke-width="0.9" />
<circle cx="308.62" cy="653.18" r="0.75" fill="#45a845" opacity="0.9"/>
<circle cx="307.97" cy="666.82" r="0.75" fill="#45a845" opacity="0.9"/>
<circle cx="307.76" cy="655.19" r="0.75" fill="#45a845" opacity="0.9"/>
<circle cx="309.09" cy="648.42" r="0.75" fill="#45a845" opacity="0.9"/>
<circle cx="310.43" cy="654.55" r="0.75" fill="#45a845" opacity="0.9"/>
<circle cx="307.48" cy="653.84" r="0.75" fill="#45a845" opacity="0.9"/>
<circle cx="310.19" cy="655.55" r="0.75" fill="#45a845" opacity="0.9"/>
<circle cx="309.53" cy="661.75" r="0.75" fill="#45a845" opacity="0.9"/>
<circle cx="308.75" cy="656.57" r="0.75" fill="#45a845" opacity="0.9"/>
<circle cx="307.09" cy="649.26" r="0.75" fill="#45a845" opacity="0.9"/>
<circle cx="308.62" cy="653.00" r="0.75" fill="#45a845" opacity="0.9"/>
<circle cx="308.09" cy="657.44" r="0.75" fill="#45a845" opacity="0.9"/>
<circle cx="308.14" cy="655.27" r="0.75" fill="#45a845" opacity="0.9"/>
<line x1="308.80" y1="655.92" x2="308.80" y2="659.17" stroke="#45a845" stroke-width="0.8" />
<line x1="306.60" y1="655.92" x2="311.00" y2="655.92" stroke="#45a845" stroke-width="0.8" />
<line x1="306.60" y1="659.17" x2="311.00" y2="659.17" stroke="#45a845" stroke-width="0.8" />
<line x1="306.00" y1="657.54" x2="311.60" y2="657.54" stroke="#45a845" stroke-width="0.9" />
<circle cx="317.62" cy="654.96" r="0.75" fill="#5a2a78" opacity="0.9"/>
<circle cx="317.62" cy="650.60" r="0.75" fill="#5a2a78" opacity="0.9"/>
<circle cx="315.03" cy="658.11" r="0.75" fill="#5a2a78" opacity="0.9"/>
<circle cx="317.85" cy="651.75" r="0.75" fill="#5a2a78" opacity="0.9"/>
<circle cx="315.64" cy="661.40" r="0.75" fill="#5a2a78" opacity="0.9"/>
<circle cx="318.20" cy="661.35" r="0.75" fill="#5a2a78" opacity="0.9"/>
<circle cx="316.72" cy="654.92" r="0.75" fill="#5a2a78" opacity="0.9"/>
<circle cx="315.59" cy="661.28" r="0.75" fill="#5a2a78" opacity="0.9"/>
<circle cx="314.77" cy="654.50" r="0.75" fill="#5a2a78" opacity="0.9"/>
<circle cx="315.63" cy="651.26" r="0.75" fill="#5a2a78" opacity="0.9"/>
<circle cx="317.97" cy="653.04" r="0.75" fill="#5a2a78" opacity="0.9"/>
<circle cx="316.44" cy="658.18" r="0.75" fill="#5a2a78" opacity="0.9"/>
<circle cx="315.28" cy="654.61" r="0.75" fill="#5a2a78" opacity="0.9"/>
<line x1="316.40" y1="656.24" x2="316.40" y2="660.15" stroke="#5a2a78" stroke-width="0.8" />
<line x1="314.20" y1="656.24" x2="318.60" y2="656.24" stroke="#5a2a78" stroke-width="0.8" />
<line x1="314.20" y1="660.15" x2="318.60" y2="660.15" stroke="#5a2a78" stroke-width="0.8" />
<line x1="313.60" y1="658.19" x2="319.20" y2="658.19" stroke="#5a2a78" stroke-width="0.9" />
<circle cx="325.48" cy="659.33" r="0.75" fill="#c8102e" opacity="0.9"/>
<circle cx="325.22" cy="647.83" r="0.75" fill="#c8102e" opacity="0.9"/>
<circle cx="325.69" cy="658.54" r="0.75" fill="#c8102e" opacity="0.9"/>
<circle cx="324.28" cy="658.91" r="0.75" fill="#c8102e" opacity="0.9"/>
<circle cx="324.94" cy="653.84" r="0.75" fill="#c8102e" opacity="0.9"/>
<circle cx="323.92" cy="654.66" r="0.75" fill="#c8102e" opacity="0.9"/>
<circle cx="323.33" cy="653.56" r="0.75" fill="#c8102e" opacity="0.9"/>
<circle cx="322.48" cy="658.32" r="0.75" fill="#c8102e" opacity="0.9"/>
<circle cx="324.00" cy="652.12" r="0.75" fill="#c8102e" opacity="0.9"/>
<circle cx="323.54" cy="654.39" r="0.75" fill="#c8102e" opacity="0.9"/>
<circle cx="325.81" cy="655.22" r="0.75" fill="#c8102e" opacity="0.9"/>
<circle cx="323.24" cy="648.54" r="0.75" fill="#c8102e" opacity="0.9"/>
<circle cx="324.31" cy="655.17" r="0.75" fill="#c8102e" opacity="0.9"/>
<line x1="324.10" y1="652.34" x2="324.10" y2="654.94" stroke="#c8102e" stroke-width="0.8" />
<line x1="321.90" y1="652.34" x2="326.30" y2="652.34" stroke="#c8102e" stroke-width="0.8" />
<line x1="321.90" y1="654.94" x2="326.30" y2="654.94" stroke="#c8102e" stroke-width="0.8" />
<line x1="321.30" y1="653.64" x2="326.90" y2="653.64" stroke="#c8102e" stroke-width="0.9" />
<circle cx="331.42" cy="657.23" r="0.75" fill="#1f4e8c" opacity="0.9"/>
<circle cx="330.75" cy="653.98" r="0.75" fill="#1f4e8c" opacity="0.9"/>
<circle cx="333.26" cy="653.26" r="0.75" fill="#1f4e8c" opacity="0.9"/>
<circle cx="333.26" cy="657.23" r="0.75" fill="#1f4e8c" opacity="0.9"/>
<circle cx="333.59" cy="654.90" r="0.75" fill="#1f4e8c" opacity="0.9"/>
<circle cx="330.69" cy="656.64" r="0.75" fill="#1f4e8c" opacity="0.9"/>
<circle cx="330.33" cy="654.39" r="0.75" fill="#1f4e8c" opacity="0.9"/>
<circle cx="330.86" cy="655.72" r="0.75" fill="#1f4e8c" opacity="0.9"/>
<circle cx="330.93" cy="653.75" r="0.75" fill="#1f4e8c" opacity="0.9"/>
<circle cx="332.70" cy="661.10" r="0.75" fill="#1f4e8c" opacity="0.9"/>
<circle cx="331.49" cy="657.82" r="0.75" fill="#1f4e8c" opacity="0.9"/>
<circle cx="331.36" cy="658.34" r="0.75" fill="#1f4e8c" opacity="0.9"/>
<circle cx="331.22" cy="652.90" r="0.75" fill="#1f4e8c" opacity="0.9"/>
<line x1="331.80" y1="653.64" x2="331.80" y2="656.24" stroke="#1f4e8c" stroke-width="0.8" />
<line x1="329.60" y1="653.64" x2="334.00" y2="653.64" stroke="#1f4e8c" stroke-width="0.8" />
<line x1="329.60" y1="656.24" x2="334.00" y2="656.24" stroke="#1f4e8c" stroke-width="0.8" />
<line x1="329.00" y1="654.94" x2="334.60" y2="654.94" stroke="#1f4e8c" stroke-width="0.9" />
<circle cx="349.58" cy="652.03" r="0.75" fill="#45a845" opacity="0.9"/>
<circle cx="346.55" cy="653.74" r="0.75" fill="#45a845" opacity="0.9"/>
<circle cx="349.21" cy="660.44" r="0.75" fill="#45a845" opacity="0.9"/>
<circle cx="346.88" cy="655.06" r="0.75" fill="#45a845" opacity="0.9"/>
<circle cx="347.54" cy="655.33" r="0.75" fill="#45a845" opacity="0.9"/>
<circle cx="347.71" cy="652.01" r="0.75" fill="#45a845" opacity="0.9"/>
<circle cx="349.24" cy="647.67" r="0.75" fill="#45a845" opacity="0.9"/>
<circle cx="346.18" cy="657.10" r="0.75" fill="#45a845" opacity="0.9"/>
<circle cx="349.32" cy="648.93" r="0.75" fill="#45a845" opacity="0.9"/>
<circle cx="347.80" cy="653.70" r="0.75" fill="#45a845" opacity="0.9"/>
<circle cx="347.51" cy="655.00" r="0.75" fill="#45a845" opacity="0.9"/>
<circle cx="349.44" cy="654.98" r="0.75" fill="#45a845" opacity="0.9"/>
<circle cx="349.60" cy="651.43" r="0.75" fill="#45a845" opacity="0.9"/>
<line x1="347.90" y1="652.99" x2="347.90" y2="656.89" stroke="#45a845" stroke-width="0.8" />
<line x1="345.70" y1="652.99" x2="350.10" y2="652.99" stroke="#45a845" stroke-width="0.8" />
<line x1="345.70" y1="656.89" x2="350.10" y2="656.89" stroke="#45a845" stroke-width="0.8" />
<line x1="345.10" y1="654.94" x2="350.70" y2="654.94" stroke="#45a845" stroke-width="0.9" />
<circle cx="354.59" cy="658.52" r="0.75" fill="#5a2a78" opacity="0.9"/>
<circle cx="355.58" cy="649.94" r="0.75" fill="#5a2a78" opacity="0.9"/>
<circle cx="356.16" cy="650.26" r="0.75" fill="#5a2a78" opacity="0.9"/>
<circle cx="356.03" cy="645.86" r="0.75" fill="#5a2a78" opacity="0.9"/>
<circle cx="356.45" cy="653.93" r="0.75" fill="#5a2a78" opacity="0.9"/>
<circle cx="353.84" cy="656.45" r="0.75" fill="#5a2a78" opacity="0.9"/>
<circle cx="356.52" cy="650.38" r="0.75" fill="#5a2a78" opacity="0.9"/>
<circle cx="356.02" cy="650.73" r="0.75" fill="#5a2a78" opacity="0.9"/>
<circle cx="354.79" cy="642.97" r="0.75" fill="#5a2a78" opacity="0.9"/>
<circle cx="355.99" cy="649.62" r="0.75" fill="#5a2a78" opacity="0.9"/>
<circle cx="356.21" cy="649.54" r="0.75" fill="#5a2a78" opacity="0.9"/>
<circle cx="355.59" cy="650.55" r="0.75" fill="#5a2a78" opacity="0.9"/>
<circle cx="355.80" cy="650.72" r="0.75" fill="#5a2a78" opacity="0.9"/>
<line x1="355.50" y1="649.73" x2="355.50" y2="653.64" stroke="#5a2a78" stroke-width="0.8" />
<line x1="353.30" y1="649.73" x2="357.70" y2="649.73" stroke="#5a2a78" stroke-width="0.8" />
<line x1="353.30" y1="653.64" x2="357.70" y2="653.64" stroke="#5a2a78" stroke-width="0.8" />
<line x1="352.70" y1="651.69" x2="358.30" y2="651.69" stroke="#5a2a78" stroke-width="0.9" />
<circle cx="363.86" cy="651.91" r="0.75" fill="#c8102e" opacity="0.9"/>
<circle cx="361.74" cy="646.69" r="0.75" fill="#c8102e" opacity="0.9"/>
<circle cx="365.15" cy="650.92" r="0.75" fill="#c8102e" opacity="0.9"/>
<circle cx="364.02" cy="643.60" r="0.75" fill="#c8102e" opacity="0.9"/>
<circle cx="362.55" cy="644.68" r="0.75" fill="#c8102e" opacity="0.9"/>
<circle cx="362.59" cy="653.03" r="0.75" fill="#c8102e" opacity="0.9"/>
<circle cx="362.81" cy="641.20" r="0.75" fill="#c8102e" opacity="0.9"/>
<circle cx="361.78" cy="651.07" r="0.75" fill="#c8102e" opacity="0.9"/>
<circle cx="363.21" cy="656.88" r="0.75" fill="#c8102e" opacity="0.9"/>
<circle cx="362.63" cy="649.00" r="0.75" fill="#c8102e" opacity="0.9"/>
<circle cx="362.52" cy="654.97" r="0.75" fill="#c8102e" opacity="0.9"/>
<circle cx="361.82" cy="659.37" r="0.75" fill="#c8102e" opacity="0.9"/>
<circle cx="364.16" cy="651.94" r="0.75" fill="#c8102e" opacity="0.9"/>
<line x1="363.50" y1="647.13" x2="363.50" y2="651.04" stroke="#c8102e" stroke-width="0.8" />
<line x1="361.30" y1="647.13" x2="365.70" y2="647.13" stroke="#c8102e" stroke-width="0.8" />
<line x1="361.30" y1="651.04" x2="365.70" y2="651.04" stroke="#c8102e" stroke-width="0.8" />
<line x1="360.70" y1="649.08" x2="366.30" y2="649.08" stroke="#c8102e" stroke-width="0.9" />
<circle cx="370.21" cy="647.49" r="0.75" fill="#1f4e8c" opacity="0.9"/>
<circle cx="371.32" cy="648.83" r="0.75" fill="#1f4e8c" opacity="0.9"/>
<circle cx="370.24" cy="655.49" r="0.75" fill="#1f4e8c" opacity="0.9"/>
<circle cx="372.45" cy="647.62" r="0.75" fill="#1f4e8c" opacity="0.9"/>
<circle cx="370.33" cy="650.91" r="0.75" fill="#1f4e8c" opacity="0.9"/>
<circle cx="370.56" cy="649.40" r="0.75" fill="#1f4e8c" opacity="0.9"/>
<circle cx="372.93" cy="644.97" r="0.75" fill="#1f4e8c" opacity="0.9"/>
<circle cx="370.30" cy="652.48" r="0.75" fill="#1f4e8c" opacity="0.9"/>
<circle cx="371.00" cy="650.33" r="0.75" fill="#1f4e8c" opacity="0.9"/>
<circle cx="370.03" cy="654.41" r="0.75" fill="#1f4e8c" opacity="0.9"/>
<circle cx="370.92" cy="657.22" r="0.75" fill="#1f4e8c" opacity="0.9"/>
<circle cx="370.01" cy="648.36" r="0.75" fill="#1f4e8c" opacity="0.9"/>
<circle cx="369.69" cy="641.83" r="0.75" fill="#1f4e8c" opacity="0.9"/>
<line x1="371.30" y1="649.08" x2="371.30" y2="651.69" stroke="#1f4e8c" stroke-width="0.8" />
<line x1="369.10" y1="649.08" x2="373.50" y2="649.08" stroke="#1f4e8c" stroke-width="0.8" />
<line x1="369.10" y1="651.69" x2="373.50" y2="651.69" stroke="#1f4e8c" stroke-width="0.8" />
<line x1="368.50" y1="650.38" x2="374.10" y2="650.38" stroke="#1f4e8c" stroke-width="0.9" />
<circle cx="388.83" cy="651.31" r="0.75" fill="#45a845" opacity="0.9"/>
<circle cx="388.78" cy="653.50" r="0.75" fill="#45a845" opacity="0.9"/>
<circle cx="388.95" cy="656.41" r="0.75" fill="#45a845" opacity="0.9"/>
<circle cx="386.79" cy="668.39" r="0.75" fill="#45a845" opacity="0.9"/>
<circle cx="388.29" cy="651.33" r="0.75" fill="#45a845" opacity="0.9"/>
<circle cx="385.71" cy="646.53" r="0.75" fill="#45a845" opacity="0.9"/>
<circle cx="386.95" cy="656.89" r="0.75" fill="#45a845" opacity="0.9"/>
<circle cx="386.79" cy="658.21" r="0.75" fill="#45a845" opacity="0.9"/>
<circle cx="386.61" cy="654.80" r="0.75" fill="#45a845" opacity="0.9"/>
<circle cx="386.87" cy="654.68" r="0.75" fill="#45a845" opacity="0.9"/>
<circle cx="389.07" cy="653.01" r="0.75" fill="#45a845" opacity="0.9"/>
<circle cx="386.35" cy="655.49" r="0.75" fill="#45a845" opacity="0.9"/>
<circle cx="388.56" cy="659.44" r="0.75" fill="#45a845" opacity="0.9"/>
<line x1="387.40" y1="652.99" x2="387.40" y2="656.89" stroke="#45a845" stroke-width="0.8" />
<line x1="385.20" y1="652.99" x2="389.60" y2="652.99" stroke="#45a845" stroke-width="0.8" />
<line x1="385.20" y1="656.89" x2="389.60" y2="656.89" stroke="#45a845" stroke-width="0.8" />
<line x1="384.60" y1="654.94" x2="390.20" y2="654.94" stroke="#45a845" stroke-width="0.9" />
<circle cx="394.56" cy="648.31" r="0.75" fill="#5a2a78" opacity="0.9"/>
<circle cx="394.34" cy="650.03" r="0.75" fill="#5a2a78" opacity="0.9"/>
<circle cx="396.31" cy="653.37" r="0.75" fill="#5a2a78" opacity="0.9"/>
<circle cx="396.23" cy="653.42" r="0.75" fill="#5a2a78" opacity="0.9"/>
<circle cx="393.11" cy="650.88" r="0.75" fill="#5a2a78" opacity="0.9"/>
<circle cx="395.76" cy="661.99" r="0.75" fill="#5a2a78" opacity="0.9"/>
<circle cx="393.15" cy="650.51" r="0.75" fill="#5a2a78" opacity="0.9"/>
<circle cx="396.31" cy="653.34" r="0.75" fill="#5a2a78" opacity="0.9"/>
<circle cx="393.93" cy="654.58" r="0.75" fill="#5a2a78" opacity="0.9"/>
<circle cx="394.22" cy="655.11" r="0.75" fill="#5a2a78" opacity="0.9"/>
<circle cx="393.98" cy="664.68" r="0.75" fill="#5a2a78" opacity="0.9"/>
<circle cx="393.94" cy="648.85" r="0.75" fill="#5a2a78" opacity="0.9"/>
<circle cx="395.58" cy="656.60" r="0.75" fill="#5a2a78" opacity="0.9"/>
<line x1="394.80" y1="653.31" x2="394.80" y2="656.57" stroke="#5a2a78" stroke-width="0.8" />
<line x1="392.60" y1="653.31" x2="397.00" y2="653.31" stroke="#5a2a78" stroke-width="0.8" />
<line x1="392.60" y1="656.57" x2="397.00" y2="656.57" stroke="#5a2a78" stroke-width="0.8" />
<line x1="392.00" y1="654.94" x2="397.60" y2="654.94" stroke="#5a2a78" stroke-width="0.9" />
<circle cx="401.01" cy="648.62" r="0.75" fill="#c8102e" opacity="0.9"/>
<circle cx="403.72" cy="643.79" r="0.75" fill="#c8102e" opacity="0.9"/>
<circle cx="404.40" cy="641.54" r="0.75" fill="#c8102e" opacity="0.9"/>
<circle cx="401.09" cy="650.37" r="0.75" fill="#c8102e" opacity="0.9"/>
<circle cx="404.44" cy="646.61" r="0.75" fill="#c8102e" opacity="0.9"/>
<circle cx="404.43" cy="641.99" r="0.75" fill="#c8102e" opacity="0.9"/>
<circle cx="402.55" cy="649.75" r="0.75" fill="#c8102e" opacity="0.9"/>
<circle cx="402.78" cy="644.87" r="0.75" fill="#c8102e" opacity="0.9"/>
<circle cx="403.89" cy="644.53" r="0.75" fill="#c8102e" opacity="0.9"/>
<circle cx="403.66" cy="648.40" r="0.75" fill="#c8102e" opacity="0.9"/>
<circle cx="403.19" cy="643.67" r="0.75" fill="#c8102e" opacity="0.9"/>
<circle cx="402.18" cy="654.17" r="0.75" fill="#c8102e" opacity="0.9"/>
<circle cx="403.82" cy="648.96" r="0.75" fill="#c8102e" opacity="0.9"/>
<line x1="402.80" y1="645.18" x2="402.80" y2="649.08" stroke="#c8102e" stroke-width="0.8" />
<line x1="400.60" y1="645.18" x2="405.00" y2="645.18" stroke="#c8102e" stroke-width="0.8" />
<line x1="400.60" y1="649.08" x2="405.00" y2="649.08" stroke="#c8102e" stroke-width="0.8" />
<line x1="400.00" y1="647.13" x2="405.60" y2="647.13" stroke="#c8102e" stroke-width="0.9" />
<circle cx="408.98" cy="646.38" r="0.75" fill="#1f4e8c" opacity="0.9"/>
<circle cx="409.59" cy="647.61" r="0.75" fill="#1f4e8c" opacity="0.9"/>
<circle cx="408.93" cy="643.56" r="0.75" fill="#1f4e8c" opacity="0.9"/>
<circle cx="409.87" cy="644.89" r="0.75" fill="#1f4e8c" opacity="0.9"/>
<circle cx="412.23" cy="648.69" r="0.75" fill="#1f4e8c" opacity="0.9"/>
<circle cx="409.65" cy="641.11" r="0.75" fill="#1f4e8c" opacity="0.9"/>
<circle cx="409.00" cy="657.48" r="0.75" fill="#1f4e8c" opacity="0.9"/>
<circle cx="411.26" cy="645.96" r="0.75" fill="#1f4e8c" opacity="0.9"/>
<circle cx="410.31" cy="647.12" r="0.75" fill="#1f4e8c" opacity="0.9"/>
<circle cx="410.93" cy="649.33" r="0.75" fill="#1f4e8c" opacity="0.9"/>
<circle cx="411.13" cy="645.70" r="0.75" fill="#1f4e8c" opacity="0.9"/>
<circle cx="411.09" cy="649.83" r="0.75" fill="#1f4e8c" opacity="0.9"/>
<circle cx="409.14" cy="657.30" r="0.75" fill="#1f4e8c" opacity="0.9"/>
<line x1="410.50" y1="648.11" x2="410.50" y2="651.36" stroke="#1f4e8c" stroke-width="0.8" />
<line x1="408.30" y1="648.11" x2="412.70" y2="648.11" stroke="#1f4e8c" stroke-width="0.8" />
<line x1="408.30" y1="651.36" x2="412.70" y2="651.36" stroke="#1f4e8c" stroke-width="0.8" />
<line x1="407.70" y1="649.73" x2="413.30" y2="649.73" stroke="#1f4e8c" stroke-width="0.9" />
<text x="308.80" y="635.00" font-size="8.2" text-anchor="middle" fill="#333" font-weight="normal" font-style="normal" >$</text>
<text x="316.30" y="635.00" font-size="8.2" text-anchor="middle" fill="#333" font-weight="normal" font-style="normal" >$</text>
<text x="324.20" y="635.00" font-size="8.2" text-anchor="middle" fill="#333" font-weight="normal" font-style="normal" >$</text>
<text x="332.00" y="635.00" font-size="8.2" text-anchor="middle" fill="#333" font-weight="normal" font-style="normal" >$</text>
<text x="347.00" y="635.00" font-size="8.2" text-anchor="middle" fill="#333" font-weight="normal" font-style="normal" >$</text>
<text x="355.50" y="635.00" font-size="8.2" text-anchor="middle" fill="#333" font-weight="normal" font-style="normal" >$</text>
<text x="387.50" y="635.00" font-size="8.2" text-anchor="middle" fill="#333" font-weight="normal" font-style="normal" >$</text>
<text x="395.00" y="635.00" font-size="8.2" text-anchor="middle" fill="#333" font-weight="normal" font-style="normal" >$</text>
<text x="355.50" y="625.00" font-size="7" text-anchor="middle" fill="#333" font-weight="bold" font-style="normal" >#</text>
<text x="363.30" y="625.00" font-size="7" text-anchor="middle" fill="#333" font-weight="bold" font-style="normal" >#</text>
<text x="371.30" y="625.00" font-size="7" text-anchor="middle" fill="#333" font-weight="bold" font-style="normal" >#</text>
<text x="410.50" y="625.00" font-size="7" text-anchor="middle" fill="#333" font-weight="bold" font-style="normal" >#</text>
<path d="M346.3,601.2 L346.3,588.3 L371.3,588.3 L371.3,618.0" fill="none" stroke="#333" stroke-width="0.9" />
<text x="358.80" y="588.00" font-size="6.5" text-anchor="middle" fill="#333" font-weight="normal" font-style="normal" >**</text>
<path d="M346.3,621.2 L346.3,608.3 L363.3,608.3 L363.3,616.2" fill="none" stroke="#333" stroke-width="0.9" />
<text x="354.80" y="608.00" font-size="6.5" text-anchor="middle" fill="#333" font-weight="normal" font-style="normal" >*</text>
<rect x="427.40" y="626.50" width="6.80" height="6.20" fill="#a6d49a" />
<text x="436.90" y="631.80" font-size="6.75" text-anchor="start" fill="#2a2a2a" font-weight="normal" font-style="normal" >STZ</text>
<rect x="427.40" y="637.20" width="6.80" height="6.20" fill="#9c80bd" />
<text x="436.90" y="642.50" font-size="6.75" text-anchor="start" fill="#2a2a2a" font-weight="normal" font-style="normal" >STZ-tPA</text>
<rect x="427.40" y="648.10" width="6.80" height="6.20" fill="#e87a70" />
<text x="436.90" y="653.40" font-size="6.75" text-anchor="start" fill="#2a2a2a" font-weight="normal" font-style="normal" >STZ-NAC</text>
<rect x="427.40" y="658.90" width="6.80" height="6.20" fill="#7c92c6" />
<text x="436.90" y="664.20" font-size="6.75" text-anchor="start" fill="#2a2a2a" font-weight="normal" font-style="normal" >STZ-NAC+rtPA</text>
<text x="427" y="680.8" font-size="6.6" fill="#2a2a2a"><tspan font-weight="bold">$</tspan> : <tspan font-style="italic">P</tspan> &lt; .5 <tspan font-style="italic">vs</tspan> baseline</text>
<text x="427" y="692.0" font-size="6.6" fill="#2a2a2a"><tspan font-weight="bold">#</tspan> : <tspan font-style="italic">P</tspan> &lt; .5 <tspan font-style="italic">vs</tspan> D1</text>
<rect x="0.5" y="0.5" width="519" height="731" fill="none" stroke="#3a3a3a" stroke-width="1"/>
</svg></body></html>
